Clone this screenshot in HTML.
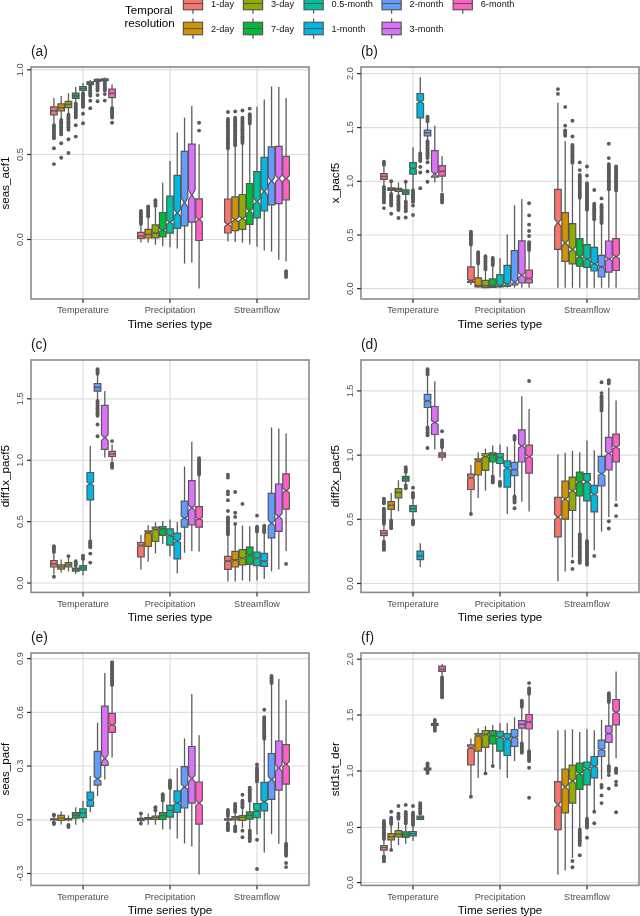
<!DOCTYPE html><html><head><meta charset="utf-8"><style>html,body{margin:0;padding:0;background:#fff;width:640px;height:916px;overflow:hidden}svg{display:block;will-change:transform}</style></head><body><svg width="640" height="916" viewBox="0 0 640 916">
<style>.w{stroke:#5c5c5c;stroke-width:1.3}.o{fill:#5a5a5a}.bx{stroke:#575757;stroke-width:1.2;stroke-linejoin:miter}.md{stroke:#575757;stroke-width:1.1}.g{stroke:#dedede;stroke-width:1.2}.fr{fill:none;stroke:#8a8a8a;stroke-width:1.6}.tk{stroke:#2a2a2a;stroke-width:1.2}text{font-family:"Liberation Sans",sans-serif}.tl{fill:#4d4d4d;font-size:9.2px}.ti{fill:#000;font-size:11.6px}.pl{fill:#1a1a1a;font-size:13.8px}</style>
<rect width="640" height="916" fill="#fff"/>
<line x1="31" y1="239.5" x2="309" y2="239.5" class="g"/><line x1="31" y1="154.5" x2="309" y2="154.5" class="g"/><line x1="31" y1="69.8" x2="309" y2="69.8" class="g"/><line x1="83" y1="67" x2="83" y2="299" class="g"/><line x1="170" y1="67" x2="170" y2="299" class="g"/><line x1="257" y1="67" x2="257" y2="299" class="g"/>
<line x1="53.92" y1="98" x2="53.92" y2="106.9" class="w"/><line x1="53.92" y1="114.8" x2="53.92" y2="125.2" class="w"/><rect x="52.26" y="125.2" width="3.31" height="13.1" class="o"/><circle cx="53.92" cy="125.2" r="1.95" class="o"/><circle cx="53.92" cy="127.82" r="1.95" class="o"/><circle cx="53.92" cy="130.44" r="1.95" class="o"/><circle cx="53.92" cy="133.06" r="1.95" class="o"/><circle cx="53.92" cy="135.68" r="1.95" class="o"/><circle cx="53.92" cy="138.3" r="1.95" class="o"/><circle cx="53.92" cy="148.2" r="1.95" class="o"/><circle cx="53.92" cy="164.1" r="1.95" class="o"/><path d="M50.62,106.9H57.22V110.29L54.32,110.8L57.22,111.31V114.8H50.62V111.31L53.52,110.8L50.62,110.29Z" fill="#F8766D" class="bx"/><line x1="53.52" y1="110.8" x2="54.32" y2="110.8" class="md"/>
<line x1="61.19" y1="96" x2="61.19" y2="103.9" class="w"/><line x1="61.19" y1="110.8" x2="61.19" y2="120" class="w"/><rect x="59.53" y="120" width="3.31" height="14.4" class="o"/><circle cx="61.19" cy="120" r="1.95" class="o"/><circle cx="61.19" cy="122.4" r="1.95" class="o"/><circle cx="61.19" cy="124.8" r="1.95" class="o"/><circle cx="61.19" cy="127.2" r="1.95" class="o"/><circle cx="61.19" cy="129.6" r="1.95" class="o"/><circle cx="61.19" cy="132" r="1.95" class="o"/><circle cx="61.19" cy="134.4" r="1.95" class="o"/><circle cx="61.19" cy="143.3" r="1.95" class="o"/><circle cx="61.19" cy="157.7" r="1.95" class="o"/><path d="M57.89,103.9H64.49V107.15L61.59,107.6L64.49,108.05V110.8H57.89V108.05L60.79,107.6L57.89,107.15Z" fill="#D39200" class="bx"/><line x1="60.79" y1="107.6" x2="61.59" y2="107.6" class="md"/>
<line x1="68.46" y1="93.2" x2="68.46" y2="101.4" class="w"/><line x1="68.46" y1="107.6" x2="68.46" y2="114.8" class="w"/><rect x="66.8" y="114.8" width="3.31" height="15" class="o"/><circle cx="68.46" cy="114.8" r="1.95" class="o"/><circle cx="68.46" cy="117.3" r="1.95" class="o"/><circle cx="68.46" cy="119.8" r="1.95" class="o"/><circle cx="68.46" cy="122.3" r="1.95" class="o"/><circle cx="68.46" cy="124.8" r="1.95" class="o"/><circle cx="68.46" cy="127.3" r="1.95" class="o"/><circle cx="68.46" cy="129.8" r="1.95" class="o"/><circle cx="68.46" cy="139.3" r="1.95" class="o"/><circle cx="68.46" cy="153" r="1.95" class="o"/><path d="M65.16,101.4H71.76V103.9L68.86,104.3L71.76,104.7V107.6H65.16V104.7L68.06,104.3L65.16,103.9Z" fill="#93AA00" class="bx"/><line x1="68.06" y1="104.3" x2="68.86" y2="104.3" class="md"/>
<line x1="75.73" y1="87" x2="75.73" y2="93.2" class="w"/><line x1="75.73" y1="98.4" x2="75.73" y2="103.6" class="w"/><rect x="74.07" y="103.6" width="3.31" height="13.8" class="o"/><circle cx="75.73" cy="103.6" r="1.95" class="o"/><circle cx="75.73" cy="105.9" r="1.95" class="o"/><circle cx="75.73" cy="108.2" r="1.95" class="o"/><circle cx="75.73" cy="110.5" r="1.95" class="o"/><circle cx="75.73" cy="112.8" r="1.95" class="o"/><circle cx="75.73" cy="115.1" r="1.95" class="o"/><circle cx="75.73" cy="117.4" r="1.95" class="o"/><circle cx="75.73" cy="125.2" r="1.95" class="o"/><circle cx="75.73" cy="136.6" r="1.95" class="o"/><path d="M72.43,93.2H79.03V95.46L76.13,95.8L79.03,96.14V98.4H72.43V96.14L75.33,95.8L72.43,95.46Z" fill="#00BA38" class="bx"/><line x1="75.33" y1="95.8" x2="76.13" y2="95.8" class="md"/>
<line x1="83" y1="83" x2="83" y2="86.6" class="w"/><line x1="83" y1="90.5" x2="83" y2="93.2" class="w"/><rect x="81.34" y="93.2" width="3.31" height="13.7" class="o"/><circle cx="83" cy="93.2" r="1.95" class="o"/><circle cx="83" cy="95.48" r="1.95" class="o"/><circle cx="83" cy="97.77" r="1.95" class="o"/><circle cx="83" cy="100.05" r="1.95" class="o"/><circle cx="83" cy="102.33" r="1.95" class="o"/><circle cx="83" cy="104.62" r="1.95" class="o"/><circle cx="83" cy="106.9" r="1.95" class="o"/><circle cx="83" cy="113.7" r="1.95" class="o"/><circle cx="83" cy="123.3" r="1.95" class="o"/><path d="M79.7,86.6H86.3V88.35L83.4,88.6L86.3,88.85V90.5H79.7V88.85L82.6,88.6L79.7,88.35Z" fill="#00C19F" class="bx"/><line x1="82.6" y1="88.6" x2="83.4" y2="88.6" class="md"/>
<line x1="90.27" y1="80" x2="90.27" y2="81.8" class="w"/><line x1="90.27" y1="84.3" x2="90.27" y2="85.3" class="w"/><rect x="88.61" y="85.3" width="3.31" height="10.5" class="o"/><circle cx="90.27" cy="85.3" r="1.95" class="o"/><circle cx="90.27" cy="87.92" r="1.95" class="o"/><circle cx="90.27" cy="90.55" r="1.95" class="o"/><circle cx="90.27" cy="93.17" r="1.95" class="o"/><circle cx="90.27" cy="95.8" r="1.95" class="o"/><circle cx="90.27" cy="100.8" r="1.95" class="o"/><circle cx="90.27" cy="108.2" r="1.95" class="o"/><path d="M86.97,81.8H93.57V82.84L90.67,83L93.57,83.16V84.3H86.97V83.16L89.87,83L86.97,82.84Z" fill="#00B9E3" class="bx"/><line x1="89.87" y1="83" x2="90.67" y2="83" class="md"/>
<line x1="97.54" y1="78.1" x2="97.54" y2="79.4" class="w"/><line x1="97.54" y1="81.4" x2="97.54" y2="82" class="w"/><rect x="95.88" y="82" width="3.31" height="8.5" class="o"/><circle cx="97.54" cy="82" r="1.95" class="o"/><circle cx="97.54" cy="84.12" r="1.95" class="o"/><circle cx="97.54" cy="86.25" r="1.95" class="o"/><circle cx="97.54" cy="88.38" r="1.95" class="o"/><circle cx="97.54" cy="90.5" r="1.95" class="o"/><circle cx="97.54" cy="95.1" r="1.95" class="o"/><circle cx="97.54" cy="101.3" r="1.95" class="o"/><path d="M94.24,79.4H100.84V80.17L97.94,80.3L100.84,80.43V81.4H94.24V80.43L97.14,80.3L94.24,80.17Z" fill="#619CFF" class="bx"/><line x1="97.14" y1="80.3" x2="97.94" y2="80.3" class="md"/>
<line x1="104.81" y1="77.4" x2="104.81" y2="78.8" class="w"/><line x1="104.81" y1="80.7" x2="104.81" y2="81.4" class="w"/><rect x="103.15" y="81.4" width="3.31" height="9.1" class="o"/><circle cx="104.81" cy="81.4" r="1.95" class="o"/><circle cx="104.81" cy="83.68" r="1.95" class="o"/><circle cx="104.81" cy="85.95" r="1.95" class="o"/><circle cx="104.81" cy="88.22" r="1.95" class="o"/><circle cx="104.81" cy="90.5" r="1.95" class="o"/><circle cx="104.81" cy="94.1" r="1.95" class="o"/><circle cx="104.81" cy="100.6" r="1.95" class="o"/><path d="M101.51,78.8H108.11V79.58L105.21,79.7L108.11,79.82V80.7H101.51V79.82L104.41,79.7L101.51,79.58Z" fill="#DB72FB" class="bx"/><line x1="104.41" y1="79.7" x2="105.21" y2="79.7" class="md"/>
<line x1="112.08" y1="84.2" x2="112.08" y2="89.1" class="w"/><line x1="112.08" y1="97.7" x2="112.08" y2="108" class="w"/><rect x="110.42" y="108" width="3.31" height="9.6" class="o"/><circle cx="112.08" cy="108" r="1.95" class="o"/><circle cx="112.08" cy="110.4" r="1.95" class="o"/><circle cx="112.08" cy="112.8" r="1.95" class="o"/><circle cx="112.08" cy="115.2" r="1.95" class="o"/><circle cx="112.08" cy="117.6" r="1.95" class="o"/><circle cx="112.08" cy="122.75" r="1.95" class="o"/><path d="M108.78,89.1H115.38V92.74L112.48,93.3L115.38,93.86V97.7H108.78V93.86L111.68,93.3L108.78,92.74Z" fill="#FF61C3" class="bx"/><line x1="111.68" y1="93.3" x2="112.48" y2="93.3" class="md"/>
<line x1="140.92" y1="225.5" x2="140.92" y2="232.4" class="w"/><line x1="140.92" y1="238.5" x2="140.92" y2="242.4" class="w"/><rect x="139.26" y="211" width="3.31" height="13" class="o"/><circle cx="140.92" cy="211" r="1.95" class="o"/><circle cx="140.92" cy="213.6" r="1.95" class="o"/><circle cx="140.92" cy="216.2" r="1.95" class="o"/><circle cx="140.92" cy="218.8" r="1.95" class="o"/><circle cx="140.92" cy="221.4" r="1.95" class="o"/><circle cx="140.92" cy="224" r="1.95" class="o"/><path d="M137.62,232.4H144.22V235.8L141.32,236.2L144.22,236.6V238.5H137.62V236.6L140.52,236.2L137.62,235.8Z" fill="#F8766D" class="bx"/><line x1="140.52" y1="236.2" x2="141.32" y2="236.2" class="md"/>
<line x1="148.19" y1="218" x2="148.19" y2="229.4" class="w"/><line x1="148.19" y1="238" x2="148.19" y2="242.4" class="w"/><rect x="146.53" y="206.4" width="3.31" height="10" class="o"/><circle cx="148.19" cy="206.4" r="1.95" class="o"/><circle cx="148.19" cy="208.9" r="1.95" class="o"/><circle cx="148.19" cy="211.4" r="1.95" class="o"/><circle cx="148.19" cy="213.9" r="1.95" class="o"/><circle cx="148.19" cy="216.4" r="1.95" class="o"/><path d="M144.89,229.4H151.49V233.84L148.59,234.4L151.49,234.96V238H144.89V234.96L147.79,234.4L144.89,233.84Z" fill="#D39200" class="bx"/><line x1="147.79" y1="234.4" x2="148.59" y2="234.4" class="md"/>
<line x1="155.46" y1="206.4" x2="155.46" y2="224.8" class="w"/><line x1="155.46" y1="237.8" x2="155.46" y2="244.7" class="w"/><rect x="153.8" y="200.3" width="3.31" height="5.4" class="o"/><circle cx="155.46" cy="200.3" r="1.95" class="o"/><circle cx="155.46" cy="203" r="1.95" class="o"/><circle cx="155.46" cy="205.7" r="1.95" class="o"/><path d="M152.16,224.8H158.76V232.35L155.86,233.2L158.76,234.04V237.8H152.16V234.04L155.06,233.2L152.16,232.35Z" fill="#93AA00" class="bx"/><line x1="155.06" y1="233.2" x2="155.86" y2="233.2" class="md"/>
<line x1="162.73" y1="182.7" x2="162.73" y2="212.5" class="w"/><line x1="162.73" y1="237" x2="162.73" y2="246.2" class="w"/><path d="M159.43,212.5H166.03V228.51L163.13,230.1L166.03,231.69V237H159.43V231.69L162.33,230.1L159.43,228.51Z" fill="#00BA38" class="bx"/><line x1="162.33" y1="230.1" x2="163.13" y2="230.1" class="md"/>
<line x1="170" y1="161" x2="170" y2="196" class="w"/><line x1="170" y1="233.2" x2="170" y2="247.3" class="w"/><path d="M166.7,196H173.3V219.78L170.4,222.2L173.3,224.62V233.2H166.7V224.62L169.6,222.2L166.7,219.78Z" fill="#00C19F" class="bx"/><line x1="169.6" y1="222.2" x2="170.4" y2="222.2" class="md"/>
<line x1="177.27" y1="132.5" x2="177.27" y2="175.4" class="w"/><line x1="177.27" y1="228.3" x2="177.27" y2="248.5" class="w"/><path d="M173.97,175.4H180.57V209.36L177.67,212.8L180.57,216.24V228.3H173.97V216.24L176.87,212.8L173.97,209.36Z" fill="#00B9E3" class="bx"/><line x1="176.87" y1="212.8" x2="177.67" y2="212.8" class="md"/>
<line x1="184.54" y1="117.6" x2="184.54" y2="151.4" class="w"/><line x1="184.54" y1="226" x2="184.54" y2="263.6" class="w"/><path d="M181.24,151.4H187.84V197.75L184.94,202.6L187.84,207.45V226H181.24V207.45L184.14,202.6L181.24,197.75Z" fill="#619CFF" class="bx"/><line x1="184.14" y1="202.6" x2="184.94" y2="202.6" class="md"/>
<line x1="191.81" y1="105.9" x2="191.81" y2="144.2" class="w"/><line x1="191.81" y1="222.2" x2="191.81" y2="262.6" class="w"/><path d="M188.51,144.2H195.11V189.93L192.21,195L195.11,200.07V222.2H188.51V200.07L191.41,195L188.51,189.93Z" fill="#DB72FB" class="bx"/><line x1="191.41" y1="195" x2="192.21" y2="195" class="md"/>
<line x1="199.08" y1="144.2" x2="199.08" y2="198.8" class="w"/><line x1="199.08" y1="240.5" x2="199.08" y2="288.4" class="w"/><circle cx="199.08" cy="122.7" r="1.95" class="o"/><circle cx="199.08" cy="130.6" r="1.95" class="o"/><path d="M195.78,198.8H202.38V216.69L199.48,219.4L202.38,222.11V240.5H195.78V222.11L198.68,219.4L195.78,216.69Z" fill="#FF61C3" class="bx"/><line x1="198.68" y1="219.4" x2="199.48" y2="219.4" class="md"/>
<line x1="227.92" y1="148.2" x2="227.92" y2="199" class="w"/><line x1="227.92" y1="233" x2="227.92" y2="241.4" class="w"/><rect x="226.26" y="118.9" width="3.31" height="29.3" class="o"/><circle cx="227.92" cy="118.9" r="1.95" class="o"/><circle cx="227.92" cy="121.34" r="1.95" class="o"/><circle cx="227.92" cy="123.78" r="1.95" class="o"/><circle cx="227.92" cy="126.22" r="1.95" class="o"/><circle cx="227.92" cy="128.67" r="1.95" class="o"/><circle cx="227.92" cy="131.11" r="1.95" class="o"/><circle cx="227.92" cy="133.55" r="1.95" class="o"/><circle cx="227.92" cy="135.99" r="1.95" class="o"/><circle cx="227.92" cy="138.43" r="1.95" class="o"/><circle cx="227.92" cy="140.88" r="1.95" class="o"/><circle cx="227.92" cy="143.32" r="1.95" class="o"/><circle cx="227.92" cy="145.76" r="1.95" class="o"/><circle cx="227.92" cy="148.2" r="1.95" class="o"/><circle cx="227.92" cy="112" r="1.95" class="o"/><path d="M224.62,199H231.22V222.09L228.32,224.3L231.22,226.51V233H224.62V226.51L227.52,224.3L224.62,222.09Z" fill="#F8766D" class="bx"/><line x1="227.52" y1="224.3" x2="228.32" y2="224.3" class="md"/>
<line x1="235.19" y1="145.3" x2="235.19" y2="196.8" class="w"/><line x1="235.19" y1="230.7" x2="235.19" y2="242.1" class="w"/><rect x="233.53" y="117.8" width="3.31" height="27.5" class="o"/><circle cx="235.19" cy="117.8" r="1.95" class="o"/><circle cx="235.19" cy="120.3" r="1.95" class="o"/><circle cx="235.19" cy="122.8" r="1.95" class="o"/><circle cx="235.19" cy="125.3" r="1.95" class="o"/><circle cx="235.19" cy="127.8" r="1.95" class="o"/><circle cx="235.19" cy="130.3" r="1.95" class="o"/><circle cx="235.19" cy="132.8" r="1.95" class="o"/><circle cx="235.19" cy="135.3" r="1.95" class="o"/><circle cx="235.19" cy="137.8" r="1.95" class="o"/><circle cx="235.19" cy="140.3" r="1.95" class="o"/><circle cx="235.19" cy="142.8" r="1.95" class="o"/><circle cx="235.19" cy="145.3" r="1.95" class="o"/><circle cx="235.19" cy="111.4" r="1.95" class="o"/><path d="M231.89,196.8H238.49V217.5L235.59,219.7L238.49,221.9V230.7H231.89V221.9L234.79,219.7L231.89,217.5Z" fill="#D39200" class="bx"/><line x1="234.79" y1="219.7" x2="235.59" y2="219.7" class="md"/>
<line x1="242.46" y1="143" x2="242.46" y2="194.5" class="w"/><line x1="242.46" y1="229.3" x2="242.46" y2="242.6" class="w"/><rect x="240.8" y="117.8" width="3.31" height="25.2" class="o"/><circle cx="242.46" cy="117.8" r="1.95" class="o"/><circle cx="242.46" cy="120.09" r="1.95" class="o"/><circle cx="242.46" cy="122.38" r="1.95" class="o"/><circle cx="242.46" cy="124.67" r="1.95" class="o"/><circle cx="242.46" cy="126.96" r="1.95" class="o"/><circle cx="242.46" cy="129.25" r="1.95" class="o"/><circle cx="242.46" cy="131.55" r="1.95" class="o"/><circle cx="242.46" cy="133.84" r="1.95" class="o"/><circle cx="242.46" cy="136.13" r="1.95" class="o"/><circle cx="242.46" cy="138.42" r="1.95" class="o"/><circle cx="242.46" cy="140.71" r="1.95" class="o"/><circle cx="242.46" cy="143" r="1.95" class="o"/><circle cx="242.46" cy="110.5" r="1.95" class="o"/><path d="M239.16,194.5H245.76V216.24L242.86,218.5L245.76,220.76V229.3H239.16V220.76L242.06,218.5L239.16,216.24Z" fill="#93AA00" class="bx"/><line x1="242.06" y1="218.5" x2="242.86" y2="218.5" class="md"/>
<line x1="249.73" y1="123.5" x2="249.73" y2="183.5" class="w"/><line x1="249.73" y1="224.3" x2="249.73" y2="244.4" class="w"/><rect x="248.07" y="114.3" width="3.31" height="9.2" class="o"/><circle cx="249.73" cy="114.3" r="1.95" class="o"/><circle cx="249.73" cy="116.6" r="1.95" class="o"/><circle cx="249.73" cy="118.9" r="1.95" class="o"/><circle cx="249.73" cy="121.2" r="1.95" class="o"/><circle cx="249.73" cy="123.5" r="1.95" class="o"/><circle cx="249.73" cy="108.6" r="1.95" class="o"/><path d="M246.43,183.5H253.03V208.35L250.13,211L253.03,213.65V224.3H246.43V213.65L249.33,211L246.43,208.35Z" fill="#00BA38" class="bx"/><line x1="249.33" y1="211" x2="250.13" y2="211" class="md"/>
<line x1="257" y1="106.8" x2="257" y2="171.6" class="w"/><line x1="257" y1="217.9" x2="257" y2="246.7" class="w"/><path d="M253.7,171.6H260.3V198.39L257.4,201.4L260.3,204.41V217.9H253.7V204.41L256.6,201.4L253.7,198.39Z" fill="#00C19F" class="bx"/><line x1="256.6" y1="201.4" x2="257.4" y2="201.4" class="md"/>
<line x1="264.27" y1="99.5" x2="264.27" y2="157.4" class="w"/><line x1="264.27" y1="211" x2="264.27" y2="250.6" class="w"/><path d="M260.97,157.4H267.57V188.02L264.67,191.5L267.57,194.98V211H260.97V194.98L263.87,191.5L260.97,188.02Z" fill="#00B9E3" class="bx"/><line x1="263.87" y1="191.5" x2="264.67" y2="191.5" class="md"/>
<line x1="271.54" y1="86.4" x2="271.54" y2="146.9" class="w"/><line x1="271.54" y1="204.8" x2="271.54" y2="251.7" class="w"/><path d="M268.24,146.9H274.84V177.04L271.94,180.8L274.84,184.56V204.8H268.24V184.56L271.14,180.8L268.24,177.04Z" fill="#619CFF" class="bx"/><line x1="271.14" y1="180.8" x2="271.94" y2="180.8" class="md"/>
<line x1="278.81" y1="86.9" x2="278.81" y2="146.4" class="w"/><line x1="278.81" y1="203.7" x2="278.81" y2="259.8" class="w"/><path d="M275.51,146.4H282.11V174.78L279.21,178.5L282.11,182.22V203.7H275.51V182.22L278.41,178.5L275.51,174.78Z" fill="#DB72FB" class="bx"/><line x1="278.41" y1="178.5" x2="279.21" y2="178.5" class="md"/>
<line x1="286.08" y1="97.9" x2="286.08" y2="156.3" class="w"/><line x1="286.08" y1="199.8" x2="286.08" y2="261.4" class="w"/><rect x="284.42" y="271.2" width="3.31" height="5.8" class="o"/><circle cx="286.08" cy="271.2" r="1.95" class="o"/><circle cx="286.08" cy="274.1" r="1.95" class="o"/><circle cx="286.08" cy="277" r="1.95" class="o"/><path d="M282.78,156.3H289.38V175.67L286.48,178.5L289.38,181.33V199.8H282.78V181.33L285.68,178.5L282.78,175.67Z" fill="#FF61C3" class="bx"/><line x1="285.68" y1="178.5" x2="286.48" y2="178.5" class="md"/>
<rect x="31" y="67" width="278" height="232" class="fr"/>
<line x1="27" y1="239.5" x2="31" y2="239.5" class="tk"/>
<text class="tl" transform="translate(23,239.5) rotate(-90)" text-anchor="middle">0.0</text>
<line x1="27" y1="154.5" x2="31" y2="154.5" class="tk"/>
<text class="tl" transform="translate(23,154.5) rotate(-90)" text-anchor="middle">0.5</text>
<line x1="27" y1="69.8" x2="31" y2="69.8" class="tk"/>
<text class="tl" transform="translate(23,69.8) rotate(-90)" text-anchor="middle">1.0</text>
<line x1="83" y1="299" x2="83" y2="303" class="tk"/>
<text class="tl" x="83" y="313.4" text-anchor="middle">Temperature</text>
<line x1="170" y1="299" x2="170" y2="303" class="tk"/>
<text class="tl" x="170" y="313.4" text-anchor="middle">Precipitation</text>
<line x1="257" y1="299" x2="257" y2="303" class="tk"/>
<text class="tl" x="257" y="313.4" text-anchor="middle">Streamflow</text>
<text class="ti" x="170" y="328" text-anchor="middle">Time series type</text>
<text class="ti" transform="translate(9,183) rotate(-90)" text-anchor="middle">seas_acf1</text>
<text class="pl" x="31" y="55.7">(a)</text>
<line x1="361" y1="288.7" x2="639" y2="288.7" class="g"/><line x1="361" y1="235" x2="639" y2="235" class="g"/><line x1="361" y1="181.3" x2="639" y2="181.3" class="g"/><line x1="361" y1="127.6" x2="639" y2="127.6" class="g"/><line x1="361" y1="73.6" x2="639" y2="73.6" class="g"/><line x1="413" y1="67" x2="413" y2="299" class="g"/><line x1="500" y1="67" x2="500" y2="299" class="g"/><line x1="587" y1="67" x2="587" y2="299" class="g"/>
<line x1="383.92" y1="166.4" x2="383.92" y2="173.6" class="w"/><line x1="383.92" y1="179.4" x2="383.92" y2="187" class="w"/><rect x="382.26" y="161.8" width="3.31" height="3.1" class="o"/><circle cx="383.92" cy="161.8" r="1.95" class="o"/><circle cx="383.92" cy="164.9" r="1.95" class="o"/><rect x="382.26" y="187" width="3.31" height="15.5" class="o"/><circle cx="383.92" cy="187" r="1.95" class="o"/><circle cx="383.92" cy="189.58" r="1.95" class="o"/><circle cx="383.92" cy="192.17" r="1.95" class="o"/><circle cx="383.92" cy="194.75" r="1.95" class="o"/><circle cx="383.92" cy="197.33" r="1.95" class="o"/><circle cx="383.92" cy="199.92" r="1.95" class="o"/><circle cx="383.92" cy="202.5" r="1.95" class="o"/><circle cx="383.92" cy="208.1" r="1.95" class="o"/><path d="M380.62,173.6H387.22V176.02L384.32,176.4L387.22,176.78V179.4H380.62V176.78L383.52,176.4L380.62,176.02Z" fill="#F8766D" class="bx"/><line x1="383.52" y1="176.4" x2="384.32" y2="176.4" class="md"/>
<line x1="391.19" y1="181.7" x2="391.19" y2="187.8" class="w"/><line x1="391.19" y1="190.4" x2="391.19" y2="194" class="w"/><rect x="389.53" y="194" width="3.31" height="11.6" class="o"/><circle cx="391.19" cy="194" r="1.95" class="o"/><circle cx="391.19" cy="196.32" r="1.95" class="o"/><circle cx="391.19" cy="198.64" r="1.95" class="o"/><circle cx="391.19" cy="200.96" r="1.95" class="o"/><circle cx="391.19" cy="203.28" r="1.95" class="o"/><circle cx="391.19" cy="205.6" r="1.95" class="o"/><circle cx="391.19" cy="181.3" r="1.95" class="o"/><circle cx="391.19" cy="213.75" r="1.95" class="o"/><path d="M387.89,187.8H394.49V188.93L391.59,189.1L394.49,189.27V190.4H387.89V189.27L390.79,189.1L387.89,188.93Z" fill="#D39200" class="bx"/><line x1="390.79" y1="189.1" x2="391.59" y2="189.1" class="md"/>
<line x1="398.46" y1="182.5" x2="398.46" y2="188.3" class="w"/><line x1="398.46" y1="191.4" x2="398.46" y2="196.3" class="w"/><rect x="396.8" y="196.3" width="3.31" height="13.7" class="o"/><circle cx="398.46" cy="196.3" r="1.95" class="o"/><circle cx="398.46" cy="198.58" r="1.95" class="o"/><circle cx="398.46" cy="200.87" r="1.95" class="o"/><circle cx="398.46" cy="203.15" r="1.95" class="o"/><circle cx="398.46" cy="205.43" r="1.95" class="o"/><circle cx="398.46" cy="207.72" r="1.95" class="o"/><circle cx="398.46" cy="210" r="1.95" class="o"/><circle cx="398.46" cy="218" r="1.95" class="o"/><path d="M395.16,188.3H401.76V189.5L398.86,189.7L401.76,189.9V191.4H395.16V189.9L398.06,189.7L395.16,189.5Z" fill="#93AA00" class="bx"/><line x1="398.06" y1="189.7" x2="398.86" y2="189.7" class="md"/>
<line x1="405.73" y1="181.7" x2="405.73" y2="189.8" class="w"/><line x1="405.73" y1="194.4" x2="405.73" y2="201.6" class="w"/><rect x="404.07" y="201.6" width="3.31" height="9.65" class="o"/><circle cx="405.73" cy="201.6" r="1.95" class="o"/><circle cx="405.73" cy="204.01" r="1.95" class="o"/><circle cx="405.73" cy="206.43" r="1.95" class="o"/><circle cx="405.73" cy="208.84" r="1.95" class="o"/><circle cx="405.73" cy="211.25" r="1.95" class="o"/><circle cx="405.73" cy="181.7" r="1.95" class="o"/><circle cx="405.73" cy="217.5" r="1.95" class="o"/><path d="M402.43,189.8H409.03V191.8L406.13,192.1L409.03,192.4V194.4H402.43V192.4L405.33,192.1L402.43,191.8Z" fill="#00BA38" class="bx"/><line x1="405.33" y1="192.1" x2="406.13" y2="192.1" class="md"/>
<line x1="413" y1="147.3" x2="413" y2="162.6" class="w"/><line x1="413" y1="174.1" x2="413" y2="190.1" class="w"/><rect x="411.34" y="190.1" width="3.31" height="11.8" class="o"/><circle cx="413" cy="190.1" r="1.95" class="o"/><circle cx="413" cy="192.46" r="1.95" class="o"/><circle cx="413" cy="194.82" r="1.95" class="o"/><circle cx="413" cy="197.18" r="1.95" class="o"/><circle cx="413" cy="199.54" r="1.95" class="o"/><circle cx="413" cy="201.9" r="1.95" class="o"/><circle cx="413" cy="205.6" r="1.95" class="o"/><circle cx="413" cy="215" r="1.95" class="o"/><path d="M409.7,162.6H416.3V167.65L413.4,168.4L416.3,169.15V174.1H409.7V169.15L412.6,168.4L409.7,167.65Z" fill="#00C19F" class="bx"/><line x1="412.6" y1="168.4" x2="413.4" y2="168.4" class="md"/>
<line x1="420.27" y1="77.3" x2="420.27" y2="93.7" class="w"/><line x1="420.27" y1="117.9" x2="420.27" y2="153.4" class="w"/><rect x="418.61" y="153.4" width="3.31" height="7.7" class="o"/><circle cx="420.27" cy="153.4" r="1.95" class="o"/><circle cx="420.27" cy="155.97" r="1.95" class="o"/><circle cx="420.27" cy="158.53" r="1.95" class="o"/><circle cx="420.27" cy="161.1" r="1.95" class="o"/><circle cx="420.27" cy="166.9" r="1.95" class="o"/><circle cx="420.27" cy="172.5" r="1.95" class="o"/><circle cx="420.27" cy="188.3" r="1.95" class="o"/><path d="M416.97,93.7H423.57V100.13L420.67,101.7L423.57,103.27V117.9H416.97V103.27L419.87,101.7L416.97,100.13Z" fill="#00B9E3" class="bx"/><line x1="419.87" y1="101.7" x2="420.67" y2="101.7" class="md"/>
<line x1="427.54" y1="122" x2="427.54" y2="130.2" class="w"/><line x1="427.54" y1="135.8" x2="427.54" y2="141.2" class="w"/><rect x="425.88" y="116.7" width="3.31" height="4.6" class="o"/><circle cx="427.54" cy="116.7" r="1.95" class="o"/><circle cx="427.54" cy="119" r="1.95" class="o"/><circle cx="427.54" cy="121.3" r="1.95" class="o"/><rect x="425.88" y="141.2" width="3.31" height="16.8" class="o"/><circle cx="427.54" cy="141.2" r="1.95" class="o"/><circle cx="427.54" cy="143.6" r="1.95" class="o"/><circle cx="427.54" cy="146" r="1.95" class="o"/><circle cx="427.54" cy="148.4" r="1.95" class="o"/><circle cx="427.54" cy="150.8" r="1.95" class="o"/><circle cx="427.54" cy="153.2" r="1.95" class="o"/><circle cx="427.54" cy="155.6" r="1.95" class="o"/><circle cx="427.54" cy="158" r="1.95" class="o"/><circle cx="427.54" cy="162.3" r="1.95" class="o"/><circle cx="427.54" cy="171.5" r="1.95" class="o"/><circle cx="427.54" cy="181.7" r="1.95" class="o"/><path d="M424.24,130.2H430.84V132.44L427.94,132.8L430.84,133.16V135.8H424.24V133.16L427.14,132.8L424.24,132.44Z" fill="#619CFF" class="bx"/><line x1="427.14" y1="132.8" x2="427.94" y2="132.8" class="md"/>
<line x1="434.81" y1="125.6" x2="434.81" y2="150.7" class="w"/><line x1="434.81" y1="177.1" x2="434.81" y2="182.5" class="w"/><path d="M431.51,150.7H438.11V171.6L435.21,174.1L438.11,176.6V177.1H431.51V176.6L434.41,174.1L431.51,171.6Z" fill="#DB72FB" class="bx"/><line x1="434.41" y1="174.1" x2="435.21" y2="174.1" class="md"/>
<line x1="442.08" y1="156.2" x2="442.08" y2="165.7" class="w"/><line x1="442.08" y1="176.1" x2="442.08" y2="191.7" class="w"/><rect x="440.42" y="194.4" width="3.31" height="8.1" class="o"/><circle cx="442.08" cy="194.4" r="1.95" class="o"/><circle cx="442.08" cy="197.1" r="1.95" class="o"/><circle cx="442.08" cy="199.8" r="1.95" class="o"/><circle cx="442.08" cy="202.5" r="1.95" class="o"/><path d="M438.78,165.7H445.38V170.62L442.48,171.3L445.38,171.98V176.1H438.78V171.98L441.68,171.3L438.78,170.62Z" fill="#FF61C3" class="bx"/><line x1="441.68" y1="171.3" x2="442.48" y2="171.3" class="md"/>
<line x1="470.92" y1="244.5" x2="470.92" y2="266.9" class="w"/><line x1="470.92" y1="282.3" x2="470.92" y2="284.9" class="w"/><rect x="469.26" y="231.7" width="3.31" height="12.8" class="o"/><circle cx="470.92" cy="231.7" r="1.95" class="o"/><circle cx="470.92" cy="234.26" r="1.95" class="o"/><circle cx="470.92" cy="236.82" r="1.95" class="o"/><circle cx="470.92" cy="239.38" r="1.95" class="o"/><circle cx="470.92" cy="241.94" r="1.95" class="o"/><circle cx="470.92" cy="244.5" r="1.95" class="o"/><path d="M467.62,266.9H474.22V279.4L471.32,280.4L474.22,281.4V282.3H467.62V281.4L470.52,280.4L467.62,279.4Z" fill="#F8766D" class="bx"/><line x1="470.52" y1="280.4" x2="471.32" y2="280.4" class="md"/>
<line x1="478.19" y1="263.6" x2="478.19" y2="277.8" class="w"/><line x1="478.19" y1="287" x2="478.19" y2="287.7" class="w"/><rect x="476.53" y="252.3" width="3.31" height="11.3" class="o"/><circle cx="478.19" cy="252.3" r="1.95" class="o"/><circle cx="478.19" cy="254.56" r="1.95" class="o"/><circle cx="478.19" cy="256.82" r="1.95" class="o"/><circle cx="478.19" cy="259.08" r="1.95" class="o"/><circle cx="478.19" cy="261.34" r="1.95" class="o"/><circle cx="478.19" cy="263.6" r="1.95" class="o"/><path d="M474.89,277.8H481.49V285L478.59,285.6L481.49,286.2V287H474.89V286.2L477.79,285.6L474.89,285Z" fill="#D39200" class="bx"/><line x1="477.79" y1="285.6" x2="478.59" y2="285.6" class="md"/>
<line x1="485.46" y1="269.3" x2="485.46" y2="280.4" class="w"/><line x1="485.46" y1="287.7" x2="485.46" y2="288" class="w"/><rect x="483.8" y="256.2" width="3.31" height="13.1" class="o"/><circle cx="485.46" cy="256.2" r="1.95" class="o"/><circle cx="485.46" cy="258.82" r="1.95" class="o"/><circle cx="485.46" cy="261.44" r="1.95" class="o"/><circle cx="485.46" cy="264.06" r="1.95" class="o"/><circle cx="485.46" cy="266.68" r="1.95" class="o"/><circle cx="485.46" cy="269.3" r="1.95" class="o"/><path d="M482.16,280.4H488.76V285.13L485.86,285.6L488.76,286.07V287.7H482.16V286.07L485.06,285.6L482.16,285.13Z" fill="#93AA00" class="bx"/><line x1="485.06" y1="285.6" x2="485.86" y2="285.6" class="md"/>
<line x1="492.73" y1="265" x2="492.73" y2="278.9" class="w"/><line x1="492.73" y1="287.4" x2="492.73" y2="288" class="w"/><rect x="491.07" y="258" width="3.31" height="7" class="o"/><circle cx="492.73" cy="258" r="1.95" class="o"/><circle cx="492.73" cy="260.33" r="1.95" class="o"/><circle cx="492.73" cy="262.67" r="1.95" class="o"/><circle cx="492.73" cy="265" r="1.95" class="o"/><path d="M489.43,278.9H496.03V285.05L493.13,285.6L496.03,286.15V287.4H489.43V286.15L492.33,285.6L489.43,285.05Z" fill="#00BA38" class="bx"/><line x1="492.33" y1="285.6" x2="493.13" y2="285.6" class="md"/>
<line x1="500" y1="258" x2="500" y2="274.7" class="w"/><line x1="500" y1="287" x2="500" y2="288" class="w"/><path d="M496.7,274.7H503.3V284.8L500.4,285.6L503.3,286.4V287H496.7V286.4L499.6,285.6L496.7,284.8Z" fill="#00C19F" class="bx"/><line x1="499.6" y1="285.6" x2="500.4" y2="285.6" class="md"/>
<line x1="507.27" y1="234.5" x2="507.27" y2="265.3" class="w"/><line x1="507.27" y1="286.3" x2="507.27" y2="287.7" class="w"/><path d="M503.97,265.3H510.57V282.83L507.67,284.2L510.57,285.56V286.3H503.97V285.56L506.87,284.2L503.97,282.83Z" fill="#00B9E3" class="bx"/><line x1="506.87" y1="284.2" x2="507.67" y2="284.2" class="md"/>
<line x1="514.54" y1="205.2" x2="514.54" y2="250.6" class="w"/><line x1="514.54" y1="284.9" x2="514.54" y2="287.7" class="w"/><path d="M511.24,250.6H517.84V279.77L514.94,282L517.84,284.23V284.9H511.24V284.23L514.14,282L511.24,279.77Z" fill="#619CFF" class="bx"/><line x1="514.14" y1="282" x2="514.94" y2="282" class="md"/>
<line x1="521.81" y1="199.1" x2="521.81" y2="240.9" class="w"/><line x1="521.81" y1="282.8" x2="521.81" y2="287.7" class="w"/><path d="M518.51,240.9H525.11V272.48L522.21,275.2L525.11,277.92V282.8H518.51V277.92L521.41,275.2L518.51,272.48Z" fill="#DB72FB" class="bx"/><line x1="521.41" y1="275.2" x2="522.21" y2="275.2" class="md"/>
<line x1="529.08" y1="250.1" x2="529.08" y2="270" class="w"/><line x1="529.08" y1="282.8" x2="529.08" y2="287.7" class="w"/><rect x="527.42" y="242.3" width="3.31" height="7.8" class="o"/><circle cx="529.08" cy="242.3" r="1.95" class="o"/><circle cx="529.08" cy="244.9" r="1.95" class="o"/><circle cx="529.08" cy="247.5" r="1.95" class="o"/><circle cx="529.08" cy="250.1" r="1.95" class="o"/><circle cx="529.08" cy="203.3" r="1.95" class="o"/><circle cx="529.08" cy="215.4" r="1.95" class="o"/><circle cx="529.08" cy="224.6" r="1.95" class="o"/><circle cx="529.08" cy="231" r="1.95" class="o"/><circle cx="529.08" cy="236" r="1.95" class="o"/><path d="M525.78,270H532.38V277.67L529.48,278.5L532.38,279.33V282.8H525.78V279.33L528.68,278.5L525.78,277.67Z" fill="#FF61C3" class="bx"/><line x1="528.68" y1="278.5" x2="529.48" y2="278.5" class="md"/>
<line x1="557.92" y1="102.8" x2="557.92" y2="189.3" class="w"/><line x1="557.92" y1="249.4" x2="557.92" y2="287.8" class="w"/><circle cx="557.92" cy="89.1" r="1.95" class="o"/><circle cx="557.92" cy="93.9" r="1.95" class="o"/><path d="M554.62,189.3H561.22V218.99L558.32,222.9L561.22,226.81V249.4H554.62V226.81L557.52,222.9L554.62,218.99Z" fill="#F8766D" class="bx"/><line x1="557.52" y1="222.9" x2="558.32" y2="222.9" class="md"/>
<line x1="565.19" y1="141.3" x2="565.19" y2="212.6" class="w"/><line x1="565.19" y1="261.4" x2="565.19" y2="287.8" class="w"/><rect x="563.53" y="130.4" width="3.31" height="5.3" class="o"/><circle cx="565.19" cy="130.4" r="1.95" class="o"/><circle cx="565.19" cy="133.05" r="1.95" class="o"/><circle cx="565.19" cy="135.7" r="1.95" class="o"/><circle cx="565.19" cy="106.9" r="1.95" class="o"/><circle cx="565.19" cy="125.6" r="1.95" class="o"/><path d="M561.89,212.6H568.49V239.73L565.59,242.9L568.49,246.07V261.4H561.89V246.07L564.79,242.9L561.89,239.73Z" fill="#D39200" class="bx"/><line x1="564.79" y1="242.9" x2="565.59" y2="242.9" class="md"/>
<line x1="572.46" y1="165.3" x2="572.46" y2="223.7" class="w"/><line x1="572.46" y1="263.8" x2="572.46" y2="287.8" class="w"/><rect x="570.8" y="144.9" width="3.31" height="18" class="o"/><circle cx="572.46" cy="144.9" r="1.95" class="o"/><circle cx="572.46" cy="147.15" r="1.95" class="o"/><circle cx="572.46" cy="149.4" r="1.95" class="o"/><circle cx="572.46" cy="151.65" r="1.95" class="o"/><circle cx="572.46" cy="153.9" r="1.95" class="o"/><circle cx="572.46" cy="156.15" r="1.95" class="o"/><circle cx="572.46" cy="158.4" r="1.95" class="o"/><circle cx="572.46" cy="160.65" r="1.95" class="o"/><circle cx="572.46" cy="162.9" r="1.95" class="o"/><circle cx="572.46" cy="120.8" r="1.95" class="o"/><circle cx="572.46" cy="136.5" r="1.95" class="o"/><path d="M569.16,223.7H575.76V246.79L572.86,249.4L575.76,252.01V263.8H569.16V252.01L572.06,249.4L569.16,246.79Z" fill="#93AA00" class="bx"/><line x1="572.06" y1="249.4" x2="572.86" y2="249.4" class="md"/>
<line x1="579.73" y1="197.7" x2="579.73" y2="238.6" class="w"/><line x1="579.73" y1="266.2" x2="579.73" y2="287.8" class="w"/><rect x="578.07" y="174.9" width="3.31" height="22.8" class="o"/><circle cx="579.73" cy="174.9" r="1.95" class="o"/><circle cx="579.73" cy="177.43" r="1.95" class="o"/><circle cx="579.73" cy="179.97" r="1.95" class="o"/><circle cx="579.73" cy="182.5" r="1.95" class="o"/><circle cx="579.73" cy="185.03" r="1.95" class="o"/><circle cx="579.73" cy="187.57" r="1.95" class="o"/><circle cx="579.73" cy="190.1" r="1.95" class="o"/><circle cx="579.73" cy="192.63" r="1.95" class="o"/><circle cx="579.73" cy="195.17" r="1.95" class="o"/><circle cx="579.73" cy="197.7" r="1.95" class="o"/><circle cx="579.73" cy="162.4" r="1.95" class="o"/><circle cx="579.73" cy="170.1" r="1.95" class="o"/><path d="M576.43,238.6H583.03V254.81L580.13,256.6L583.03,258.39V266.2H576.43V258.39L579.33,256.6L576.43,254.81Z" fill="#00BA38" class="bx"/><line x1="579.33" y1="256.6" x2="580.13" y2="256.6" class="md"/>
<line x1="587" y1="209.7" x2="587" y2="244.6" class="w"/><line x1="587" y1="267.4" x2="587" y2="287.8" class="w"/><rect x="585.34" y="183.3" width="3.31" height="26.4" class="o"/><circle cx="587" cy="183.3" r="1.95" class="o"/><circle cx="587" cy="185.7" r="1.95" class="o"/><circle cx="587" cy="188.1" r="1.95" class="o"/><circle cx="587" cy="190.5" r="1.95" class="o"/><circle cx="587" cy="192.9" r="1.95" class="o"/><circle cx="587" cy="195.3" r="1.95" class="o"/><circle cx="587" cy="197.7" r="1.95" class="o"/><circle cx="587" cy="200.1" r="1.95" class="o"/><circle cx="587" cy="202.5" r="1.95" class="o"/><circle cx="587" cy="204.9" r="1.95" class="o"/><circle cx="587" cy="207.3" r="1.95" class="o"/><circle cx="587" cy="209.7" r="1.95" class="o"/><circle cx="587" cy="166.5" r="1.95" class="o"/><circle cx="587" cy="175.6" r="1.95" class="o"/><path d="M583.7,244.6H590.3V257.52L587.4,259L590.3,260.48V267.4H583.7V260.48L586.6,259L583.7,257.52Z" fill="#00C19F" class="bx"/><line x1="586.6" y1="259" x2="587.4" y2="259" class="md"/>
<line x1="594.27" y1="219.3" x2="594.27" y2="247.4" class="w"/><line x1="594.27" y1="271" x2="594.27" y2="287.8" class="w"/><rect x="592.61" y="203.7" width="3.31" height="15.6" class="o"/><circle cx="594.27" cy="203.7" r="1.95" class="o"/><circle cx="594.27" cy="205.93" r="1.95" class="o"/><circle cx="594.27" cy="208.16" r="1.95" class="o"/><circle cx="594.27" cy="210.39" r="1.95" class="o"/><circle cx="594.27" cy="212.61" r="1.95" class="o"/><circle cx="594.27" cy="214.84" r="1.95" class="o"/><circle cx="594.27" cy="217.07" r="1.95" class="o"/><circle cx="594.27" cy="219.3" r="1.95" class="o"/><circle cx="594.27" cy="190" r="1.95" class="o"/><path d="M590.97,247.4H597.57V262.27L594.67,263.8L597.57,265.33V271H590.97V265.33L593.87,263.8L590.97,262.27Z" fill="#00B9E3" class="bx"/><line x1="593.87" y1="263.8" x2="594.67" y2="263.8" class="md"/>
<line x1="601.54" y1="222.9" x2="601.54" y2="255.4" class="w"/><line x1="601.54" y1="277" x2="601.54" y2="287.8" class="w"/><rect x="599.88" y="204.9" width="3.31" height="18" class="o"/><circle cx="601.54" cy="204.9" r="1.95" class="o"/><circle cx="601.54" cy="207.15" r="1.95" class="o"/><circle cx="601.54" cy="209.4" r="1.95" class="o"/><circle cx="601.54" cy="211.65" r="1.95" class="o"/><circle cx="601.54" cy="213.9" r="1.95" class="o"/><circle cx="601.54" cy="216.15" r="1.95" class="o"/><circle cx="601.54" cy="218.4" r="1.95" class="o"/><circle cx="601.54" cy="220.65" r="1.95" class="o"/><circle cx="601.54" cy="222.9" r="1.95" class="o"/><circle cx="601.54" cy="198.4" r="1.95" class="o"/><path d="M598.24,255.4H604.84V265.5L601.94,266.9L604.84,268.3V277H598.24V268.3L601.14,266.9L598.24,265.5Z" fill="#619CFF" class="bx"/><line x1="601.14" y1="266.9" x2="601.94" y2="266.9" class="md"/>
<line x1="608.81" y1="189.3" x2="608.81" y2="241" class="w"/><line x1="608.81" y1="272.2" x2="608.81" y2="287.8" class="w"/><rect x="607.15" y="164.1" width="3.31" height="25.2" class="o"/><circle cx="608.81" cy="164.1" r="1.95" class="o"/><circle cx="608.81" cy="166.39" r="1.95" class="o"/><circle cx="608.81" cy="168.68" r="1.95" class="o"/><circle cx="608.81" cy="170.97" r="1.95" class="o"/><circle cx="608.81" cy="173.26" r="1.95" class="o"/><circle cx="608.81" cy="175.55" r="1.95" class="o"/><circle cx="608.81" cy="177.85" r="1.95" class="o"/><circle cx="608.81" cy="180.14" r="1.95" class="o"/><circle cx="608.81" cy="182.43" r="1.95" class="o"/><circle cx="608.81" cy="184.72" r="1.95" class="o"/><circle cx="608.81" cy="187.01" r="1.95" class="o"/><circle cx="608.81" cy="189.3" r="1.95" class="o"/><circle cx="608.81" cy="143.7" r="1.95" class="o"/><circle cx="608.81" cy="158.1" r="1.95" class="o"/><path d="M605.51,241H612.11V256.97L609.21,259L612.11,261.03V272.2H605.51V261.03L608.41,259L605.51,256.97Z" fill="#DB72FB" class="bx"/><line x1="608.41" y1="259" x2="609.21" y2="259" class="md"/>
<line x1="616.08" y1="190.5" x2="616.08" y2="238.6" class="w"/><line x1="616.08" y1="270.5" x2="616.08" y2="287.8" class="w"/><rect x="614.42" y="166.5" width="3.31" height="24" class="o"/><circle cx="616.08" cy="166.5" r="1.95" class="o"/><circle cx="616.08" cy="168.9" r="1.95" class="o"/><circle cx="616.08" cy="171.3" r="1.95" class="o"/><circle cx="616.08" cy="173.7" r="1.95" class="o"/><circle cx="616.08" cy="176.1" r="1.95" class="o"/><circle cx="616.08" cy="178.5" r="1.95" class="o"/><circle cx="616.08" cy="180.9" r="1.95" class="o"/><circle cx="616.08" cy="183.3" r="1.95" class="o"/><circle cx="616.08" cy="185.7" r="1.95" class="o"/><circle cx="616.08" cy="188.1" r="1.95" class="o"/><circle cx="616.08" cy="190.5" r="1.95" class="o"/><path d="M612.78,238.6H619.38V254.53L616.48,256.6L619.38,258.67V270.5H612.78V258.67L615.68,256.6L612.78,254.53Z" fill="#FF61C3" class="bx"/><line x1="615.68" y1="256.6" x2="616.48" y2="256.6" class="md"/>
<rect x="361" y="67" width="278" height="232" class="fr"/>
<line x1="357" y1="288.7" x2="361" y2="288.7" class="tk"/>
<text class="tl" transform="translate(353,288.7) rotate(-90)" text-anchor="middle">0.0</text>
<line x1="357" y1="235" x2="361" y2="235" class="tk"/>
<text class="tl" transform="translate(353,235) rotate(-90)" text-anchor="middle">0.5</text>
<line x1="357" y1="181.3" x2="361" y2="181.3" class="tk"/>
<text class="tl" transform="translate(353,181.3) rotate(-90)" text-anchor="middle">1.0</text>
<line x1="357" y1="127.6" x2="361" y2="127.6" class="tk"/>
<text class="tl" transform="translate(353,127.6) rotate(-90)" text-anchor="middle">1.5</text>
<line x1="357" y1="73.6" x2="361" y2="73.6" class="tk"/>
<text class="tl" transform="translate(353,73.6) rotate(-90)" text-anchor="middle">2.0</text>
<line x1="413" y1="299" x2="413" y2="303" class="tk"/>
<text class="tl" x="413" y="313.4" text-anchor="middle">Temperature</text>
<line x1="500" y1="299" x2="500" y2="303" class="tk"/>
<text class="tl" x="500" y="313.4" text-anchor="middle">Precipitation</text>
<line x1="587" y1="299" x2="587" y2="303" class="tk"/>
<text class="tl" x="587" y="313.4" text-anchor="middle">Streamflow</text>
<text class="ti" x="500" y="328" text-anchor="middle">Time series type</text>
<text class="ti" transform="translate(339,183) rotate(-90)" text-anchor="middle">x_pacf5</text>
<text class="pl" x="361" y="55.7">(b)</text>
<line x1="31" y1="583" x2="309" y2="583" class="g"/><line x1="31" y1="521.6" x2="309" y2="521.6" class="g"/><line x1="31" y1="460.3" x2="309" y2="460.3" class="g"/><line x1="31" y1="398.8" x2="309" y2="398.8" class="g"/><line x1="83" y1="360" x2="83" y2="592.4" class="g"/><line x1="170" y1="360" x2="170" y2="592.4" class="g"/><line x1="257" y1="360" x2="257" y2="592.4" class="g"/>
<line x1="53.92" y1="551.9" x2="53.92" y2="560.5" class="w"/><line x1="53.92" y1="567" x2="53.92" y2="574.4" class="w"/><rect x="52.26" y="546.2" width="3.31" height="5.7" class="o"/><circle cx="53.92" cy="546.2" r="1.95" class="o"/><circle cx="53.92" cy="549.05" r="1.95" class="o"/><circle cx="53.92" cy="551.9" r="1.95" class="o"/><circle cx="53.92" cy="576.7" r="1.95" class="o"/><path d="M50.62,560.5H57.22V563.48L54.32,563.9L57.22,564.32V567H50.62V564.32L53.52,563.9L50.62,563.48Z" fill="#F8766D" class="bx"/><line x1="53.52" y1="563.9" x2="54.32" y2="563.9" class="md"/>
<line x1="61.19" y1="559.4" x2="61.19" y2="564.8" class="w"/><line x1="61.19" y1="569.2" x2="61.19" y2="572.5" class="w"/><path d="M57.89,564.8H64.49V566.61L61.59,566.9L64.49,567.19V569.2H57.89V567.19L60.79,566.9L57.89,566.61Z" fill="#D39200" class="bx"/><line x1="60.79" y1="566.9" x2="61.59" y2="566.9" class="md"/>
<line x1="68.46" y1="557.5" x2="68.46" y2="562.6" class="w"/><line x1="68.46" y1="567" x2="68.46" y2="571.5" class="w"/><circle cx="68.46" cy="556.1" r="1.95" class="o"/><path d="M65.16,562.6H71.76V564.51L68.86,564.8L71.76,565.09V567H65.16V565.09L68.06,564.8L65.16,564.51Z" fill="#93AA00" class="bx"/><line x1="68.06" y1="564.8" x2="68.86" y2="564.8" class="md"/>
<line x1="75.73" y1="565.5" x2="75.73" y2="568" class="w"/><line x1="75.73" y1="571.1" x2="75.73" y2="573.9" class="w"/><rect x="74.07" y="561.2" width="3.31" height="4.3" class="o"/><circle cx="75.73" cy="561.2" r="1.95" class="o"/><circle cx="75.73" cy="563.35" r="1.95" class="o"/><circle cx="75.73" cy="565.5" r="1.95" class="o"/><path d="M72.43,568H79.03V569L76.13,569.2L79.03,569.4V571.1H72.43V569.4L75.33,569.2L72.43,569Z" fill="#00BA38" class="bx"/><line x1="75.33" y1="569.2" x2="76.13" y2="569.2" class="md"/>
<line x1="83" y1="558.9" x2="83" y2="565.7" class="w"/><line x1="83" y1="570.1" x2="83" y2="575.3" class="w"/><rect x="81.34" y="555.6" width="3.31" height="3.3" class="o"/><circle cx="83" cy="555.6" r="1.95" class="o"/><circle cx="83" cy="558.9" r="1.95" class="o"/><path d="M79.7,565.7H86.3V567.51L83.4,567.8L86.3,568.09V570.1H79.7V568.09L82.6,567.8L79.7,567.51Z" fill="#00C19F" class="bx"/><line x1="82.6" y1="567.8" x2="83.4" y2="567.8" class="md"/>
<line x1="90.27" y1="446" x2="90.27" y2="472.5" class="w"/><line x1="90.27" y1="499.8" x2="90.27" y2="541.1" class="w"/><rect x="88.61" y="541.1" width="3.31" height="6.1" class="o"/><circle cx="90.27" cy="541.1" r="1.95" class="o"/><circle cx="90.27" cy="543.13" r="1.95" class="o"/><circle cx="90.27" cy="545.17" r="1.95" class="o"/><circle cx="90.27" cy="547.2" r="1.95" class="o"/><circle cx="90.27" cy="553.6" r="1.95" class="o"/><circle cx="90.27" cy="562.6" r="1.95" class="o"/><path d="M86.97,472.5H93.57V481.93L90.67,483.7L93.57,485.47V499.8H86.97V485.47L89.87,483.7L86.97,481.93Z" fill="#00B9E3" class="bx"/><line x1="89.87" y1="483.7" x2="90.67" y2="483.7" class="md"/>
<line x1="97.54" y1="373.7" x2="97.54" y2="383.5" class="w"/><line x1="97.54" y1="391.1" x2="97.54" y2="401" class="w"/><rect x="95.88" y="369.3" width="3.31" height="4.4" class="o"/><circle cx="97.54" cy="369.3" r="1.95" class="o"/><circle cx="97.54" cy="371.5" r="1.95" class="o"/><circle cx="97.54" cy="373.7" r="1.95" class="o"/><rect x="95.88" y="401" width="3.31" height="14.7" class="o"/><circle cx="97.54" cy="401" r="1.95" class="o"/><circle cx="97.54" cy="403.45" r="1.95" class="o"/><circle cx="97.54" cy="405.9" r="1.95" class="o"/><circle cx="97.54" cy="408.35" r="1.95" class="o"/><circle cx="97.54" cy="410.8" r="1.95" class="o"/><circle cx="97.54" cy="413.25" r="1.95" class="o"/><circle cx="97.54" cy="415.7" r="1.95" class="o"/><circle cx="97.54" cy="424.5" r="1.95" class="o"/><circle cx="97.54" cy="436.3" r="1.95" class="o"/><path d="M94.24,383.5H100.84V386.81L97.94,387.3L100.84,387.79V391.1H94.24V387.79L97.14,387.3L94.24,386.81Z" fill="#619CFF" class="bx"/><line x1="97.14" y1="387.3" x2="97.94" y2="387.3" class="md"/>
<line x1="104.81" y1="391.1" x2="104.81" y2="405.4" class="w"/><line x1="104.81" y1="449.4" x2="104.81" y2="457.5" class="w"/><path d="M101.51,405.4H108.11V434.74L105.21,437.6L108.11,440.46V449.4H101.51V440.46L104.41,437.6L101.51,434.74Z" fill="#DB72FB" class="bx"/><line x1="104.41" y1="437.6" x2="105.21" y2="437.6" class="md"/>
<line x1="112.08" y1="444.2" x2="112.08" y2="451.4" class="w"/><line x1="112.08" y1="456.5" x2="112.08" y2="461.8" class="w"/><rect x="110.42" y="463.5" width="3.31" height="4.3" class="o"/><circle cx="112.08" cy="463.5" r="1.95" class="o"/><circle cx="112.08" cy="465.65" r="1.95" class="o"/><circle cx="112.08" cy="467.8" r="1.95" class="o"/><circle cx="112.08" cy="441.1" r="1.95" class="o"/><path d="M108.78,451.4H115.38V453.67L112.48,454L115.38,454.33V456.5H108.78V454.33L111.68,454L108.78,453.67Z" fill="#FF61C3" class="bx"/><line x1="111.68" y1="454" x2="112.48" y2="454" class="md"/>
<line x1="140.92" y1="534.9" x2="140.92" y2="542.5" class="w"/><line x1="140.92" y1="556.8" x2="140.92" y2="569.6" class="w"/><path d="M137.62,542.5H144.22V544.67L141.32,545.6L144.22,546.53V556.8H137.62V546.53L140.52,545.6L137.62,544.67Z" fill="#F8766D" class="bx"/><line x1="140.52" y1="545.6" x2="141.32" y2="545.6" class="md"/>
<line x1="148.19" y1="525.3" x2="148.19" y2="530.8" class="w"/><line x1="148.19" y1="546.4" x2="148.19" y2="561.7" class="w"/><path d="M144.89,530.8H151.49V531.89L148.59,532.9L151.49,533.91V546.4H144.89V533.91L147.79,532.9L144.89,531.89Z" fill="#D39200" class="bx"/><line x1="147.79" y1="532.9" x2="148.59" y2="532.9" class="md"/>
<line x1="155.46" y1="522.2" x2="155.46" y2="527.2" class="w"/><line x1="155.46" y1="541.5" x2="155.46" y2="553.3" class="w"/><path d="M152.16,527.2H158.76V528.57L155.86,529.5L158.76,530.43V541.5H152.16V530.43L155.06,529.5L152.16,528.57Z" fill="#93AA00" class="bx"/><line x1="155.06" y1="529.5" x2="155.86" y2="529.5" class="md"/>
<line x1="162.73" y1="521.1" x2="162.73" y2="526.5" class="w"/><line x1="162.73" y1="535.4" x2="162.73" y2="544.1" class="w"/><path d="M159.43,526.5H166.03V528.22L163.13,528.8L166.03,529.38V535.4H159.43V529.38L162.33,528.8L159.43,528.22Z" fill="#00BA38" class="bx"/><line x1="162.33" y1="528.8" x2="163.13" y2="528.8" class="md"/>
<line x1="170" y1="519.6" x2="170" y2="528.8" class="w"/><line x1="170" y1="545.1" x2="170" y2="556.3" class="w"/><path d="M166.7,528.8H173.3V534.64L170.4,535.7L173.3,536.76V545.1H166.7V536.76L169.6,535.7L166.7,534.64Z" fill="#00C19F" class="bx"/><line x1="169.6" y1="535.7" x2="170.4" y2="535.7" class="md"/>
<line x1="177.27" y1="521.9" x2="177.27" y2="533.1" class="w"/><line x1="177.27" y1="558.9" x2="177.27" y2="573.6" class="w"/><path d="M173.97,533.1H180.57V539.32L177.67,541L180.57,542.68V558.9H173.97V542.68L176.87,541L173.97,539.32Z" fill="#00B9E3" class="bx"/><line x1="176.87" y1="541" x2="177.67" y2="541" class="md"/>
<line x1="184.54" y1="466.5" x2="184.54" y2="501.2" class="w"/><line x1="184.54" y1="527.2" x2="184.54" y2="552.8" class="w"/><path d="M181.24,501.2H187.84V516.41L184.94,518.1L187.84,519.79V527.2H181.24V519.79L184.14,518.1L181.24,516.41Z" fill="#619CFF" class="bx"/><line x1="184.14" y1="518.1" x2="184.94" y2="518.1" class="md"/>
<line x1="191.81" y1="441.7" x2="191.81" y2="480.6" class="w"/><line x1="191.81" y1="525" x2="191.81" y2="551" class="w"/><path d="M188.51,480.6H195.11V504.91L192.21,507.8L195.11,510.69V525H188.51V510.69L191.41,507.8L188.51,504.91Z" fill="#DB72FB" class="bx"/><line x1="191.41" y1="507.8" x2="192.21" y2="507.8" class="md"/>
<line x1="199.08" y1="474.5" x2="199.08" y2="506.6" class="w"/><line x1="199.08" y1="527.2" x2="199.08" y2="551.7" class="w"/><rect x="197.42" y="458.1" width="3.31" height="16.4" class="o"/><circle cx="199.08" cy="458.1" r="1.95" class="o"/><circle cx="199.08" cy="460.44" r="1.95" class="o"/><circle cx="199.08" cy="462.79" r="1.95" class="o"/><circle cx="199.08" cy="465.13" r="1.95" class="o"/><circle cx="199.08" cy="467.47" r="1.95" class="o"/><circle cx="199.08" cy="469.81" r="1.95" class="o"/><circle cx="199.08" cy="472.16" r="1.95" class="o"/><circle cx="199.08" cy="474.5" r="1.95" class="o"/><path d="M195.78,506.6H202.38V517.46L199.48,518.8L202.38,520.14V527.2H195.78V520.14L198.68,518.8L195.78,517.46Z" fill="#FF61C3" class="bx"/><line x1="198.68" y1="518.8" x2="199.48" y2="518.8" class="md"/>
<line x1="227.92" y1="534.2" x2="227.92" y2="556.4" class="w"/><line x1="227.92" y1="569.4" x2="227.92" y2="581.5" class="w"/><rect x="226.26" y="517.4" width="3.31" height="16.8" class="o"/><circle cx="227.92" cy="517.4" r="1.95" class="o"/><circle cx="227.92" cy="519.8" r="1.95" class="o"/><circle cx="227.92" cy="522.2" r="1.95" class="o"/><circle cx="227.92" cy="524.6" r="1.95" class="o"/><circle cx="227.92" cy="527" r="1.95" class="o"/><circle cx="227.92" cy="529.4" r="1.95" class="o"/><circle cx="227.92" cy="531.8" r="1.95" class="o"/><circle cx="227.92" cy="534.2" r="1.95" class="o"/><circle cx="227.92" cy="474.8" r="1.95" class="o"/><circle cx="227.92" cy="477.5" r="1.95" class="o"/><circle cx="227.92" cy="491.5" r="1.95" class="o"/><circle cx="227.92" cy="494.2" r="1.95" class="o"/><circle cx="227.92" cy="500.2" r="1.95" class="o"/><circle cx="227.92" cy="511" r="1.95" class="o"/><path d="M224.62,556.4H231.22V560.25L228.32,561.1L231.22,561.95V569.4H224.62V561.95L227.52,561.1L224.62,560.25Z" fill="#F8766D" class="bx"/><line x1="227.52" y1="561.1" x2="228.32" y2="561.1" class="md"/>
<line x1="235.19" y1="523.9" x2="235.19" y2="551.4" class="w"/><line x1="235.19" y1="567" x2="235.19" y2="581.5" class="w"/><circle cx="235.19" cy="492" r="1.95" class="o"/><circle cx="235.19" cy="512.8" r="1.95" class="o"/><circle cx="235.19" cy="516.9" r="1.95" class="o"/><circle cx="235.19" cy="523.9" r="1.95" class="o"/><path d="M231.89,551.4H238.49V559.09L235.59,560.1L238.49,561.11V567H231.89V561.11L234.79,560.1L231.89,559.09Z" fill="#D39200" class="bx"/><line x1="234.79" y1="560.1" x2="235.59" y2="560.1" class="md"/>
<line x1="242.46" y1="525.4" x2="242.46" y2="549.6" class="w"/><line x1="242.46" y1="564.8" x2="242.46" y2="580.6" class="w"/><circle cx="242.46" cy="503.9" r="1.95" class="o"/><path d="M239.16,549.6H245.76V557.31L242.86,558.3L245.76,559.29V564.8H239.16V559.29L242.06,558.3L239.16,557.31Z" fill="#93AA00" class="bx"/><line x1="242.06" y1="558.3" x2="242.86" y2="558.3" class="md"/>
<line x1="249.73" y1="526.2" x2="249.73" y2="547.1" class="w"/><line x1="249.73" y1="564.4" x2="249.73" y2="581.5" class="w"/><path d="M246.43,547.1H253.03V553.98L250.13,555.1L253.03,556.22V564.4H246.43V556.22L249.33,555.1L246.43,553.98Z" fill="#00BA38" class="bx"/><line x1="249.33" y1="555.1" x2="250.13" y2="555.1" class="md"/>
<line x1="257" y1="531.4" x2="257" y2="552.2" class="w"/><line x1="257" y1="565.7" x2="257" y2="580.6" class="w"/><rect x="255.34" y="526.7" width="3.31" height="4.7" class="o"/><circle cx="257" cy="526.7" r="1.95" class="o"/><circle cx="257" cy="529.05" r="1.95" class="o"/><circle cx="257" cy="531.4" r="1.95" class="o"/><circle cx="257" cy="515.6" r="1.95" class="o"/><path d="M253.7,552.2H260.3V557.42L257.4,558.3L260.3,559.18V565.7H253.7V559.18L256.6,558.3L253.7,557.42Z" fill="#00C19F" class="bx"/><line x1="256.6" y1="558.3" x2="257.4" y2="558.3" class="md"/>
<line x1="264.27" y1="532.3" x2="264.27" y2="553.3" class="w"/><line x1="264.27" y1="566.3" x2="264.27" y2="578.7" class="w"/><rect x="262.61" y="525.8" width="3.31" height="6.5" class="o"/><circle cx="264.27" cy="525.8" r="1.95" class="o"/><circle cx="264.27" cy="527.97" r="1.95" class="o"/><circle cx="264.27" cy="530.13" r="1.95" class="o"/><circle cx="264.27" cy="532.3" r="1.95" class="o"/><path d="M260.97,553.3H267.57V560.25L264.67,561.1L267.57,561.95V566.3H260.97V561.95L263.87,561.1L260.97,560.25Z" fill="#00B9E3" class="bx"/><line x1="263.87" y1="561.1" x2="264.67" y2="561.1" class="md"/>
<line x1="271.54" y1="427.4" x2="271.54" y2="493.3" class="w"/><line x1="271.54" y1="537.9" x2="271.54" y2="571.3" class="w"/><path d="M268.24,493.3H274.84V520.1L271.94,523L274.84,525.9V537.9H268.24V525.9L271.14,523L268.24,520.1Z" fill="#619CFF" class="bx"/><line x1="271.14" y1="523" x2="271.94" y2="523" class="md"/>
<line x1="278.81" y1="428.4" x2="278.81" y2="484" class="w"/><line x1="278.81" y1="531.4" x2="278.81" y2="569.4" class="w"/><path d="M275.51,484H282.11V513.42L279.21,516.5L282.11,519.58V531.4H275.51V519.58L278.41,516.5L275.51,513.42Z" fill="#DB72FB" class="bx"/><line x1="278.41" y1="516.5" x2="279.21" y2="516.5" class="md"/>
<line x1="286.08" y1="433.4" x2="286.08" y2="473.8" class="w"/><line x1="286.08" y1="509.1" x2="286.08" y2="550.9" class="w"/><circle cx="286.08" cy="563.9" r="1.95" class="o"/><path d="M282.78,473.8H289.38V488.21L286.48,490.5L289.38,492.79V509.1H282.78V492.79L285.68,490.5L282.78,488.21Z" fill="#FF61C3" class="bx"/><line x1="285.68" y1="490.5" x2="286.48" y2="490.5" class="md"/>
<rect x="31" y="360" width="278" height="232.39999999999998" class="fr"/>
<line x1="27" y1="583" x2="31" y2="583" class="tk"/>
<text class="tl" transform="translate(23,583) rotate(-90)" text-anchor="middle">0.0</text>
<line x1="27" y1="521.6" x2="31" y2="521.6" class="tk"/>
<text class="tl" transform="translate(23,521.6) rotate(-90)" text-anchor="middle">0.5</text>
<line x1="27" y1="460.3" x2="31" y2="460.3" class="tk"/>
<text class="tl" transform="translate(23,460.3) rotate(-90)" text-anchor="middle">1.0</text>
<line x1="27" y1="398.8" x2="31" y2="398.8" class="tk"/>
<text class="tl" transform="translate(23,398.8) rotate(-90)" text-anchor="middle">1.5</text>
<line x1="83" y1="592.4" x2="83" y2="596.4" class="tk"/>
<text class="tl" x="83" y="606.8" text-anchor="middle">Temperature</text>
<line x1="170" y1="592.4" x2="170" y2="596.4" class="tk"/>
<text class="tl" x="170" y="606.8" text-anchor="middle">Precipitation</text>
<line x1="257" y1="592.4" x2="257" y2="596.4" class="tk"/>
<text class="tl" x="257" y="606.8" text-anchor="middle">Streamflow</text>
<text class="ti" x="170" y="621.4" text-anchor="middle">Time series type</text>
<text class="ti" transform="translate(9,476.2) rotate(-90)" text-anchor="middle">diff1x_pacf5</text>
<text class="pl" x="31" y="348.7">(c)</text>
<line x1="361" y1="583.5" x2="639" y2="583.5" class="g"/><line x1="361" y1="519.3" x2="639" y2="519.3" class="g"/><line x1="361" y1="455.1" x2="639" y2="455.1" class="g"/><line x1="361" y1="390.9" x2="639" y2="390.9" class="g"/><line x1="413" y1="360" x2="413" y2="592.4" class="g"/><line x1="500" y1="360" x2="500" y2="592.4" class="g"/><line x1="587" y1="360" x2="587" y2="592.4" class="g"/>
<line x1="383.92" y1="523.7" x2="383.92" y2="530.5" class="w"/><line x1="383.92" y1="535.7" x2="383.92" y2="541.8" class="w"/><rect x="382.26" y="498.8" width="3.31" height="4.6" class="o"/><circle cx="383.92" cy="498.8" r="1.95" class="o"/><circle cx="383.92" cy="501.1" r="1.95" class="o"/><circle cx="383.92" cy="503.4" r="1.95" class="o"/><rect x="382.26" y="508.6" width="3.31" height="15.1" class="o"/><circle cx="383.92" cy="508.6" r="1.95" class="o"/><circle cx="383.92" cy="511.12" r="1.95" class="o"/><circle cx="383.92" cy="513.63" r="1.95" class="o"/><circle cx="383.92" cy="516.15" r="1.95" class="o"/><circle cx="383.92" cy="518.67" r="1.95" class="o"/><circle cx="383.92" cy="521.18" r="1.95" class="o"/><circle cx="383.92" cy="523.7" r="1.95" class="o"/><rect x="382.26" y="541.8" width="3.31" height="8.1" class="o"/><circle cx="383.92" cy="541.8" r="1.95" class="o"/><circle cx="383.92" cy="544.5" r="1.95" class="o"/><circle cx="383.92" cy="547.2" r="1.95" class="o"/><circle cx="383.92" cy="549.9" r="1.95" class="o"/><path d="M380.62,530.5H387.22V532.76L384.32,533.1L387.22,533.44V535.7H380.62V533.44L383.52,533.1L380.62,532.76Z" fill="#F8766D" class="bx"/><line x1="383.52" y1="533.1" x2="384.32" y2="533.1" class="md"/>
<line x1="391.19" y1="492.9" x2="391.19" y2="501.7" class="w"/><line x1="391.19" y1="509.3" x2="391.19" y2="520.4" class="w"/><rect x="389.53" y="520.4" width="3.31" height="7.9" class="o"/><circle cx="391.19" cy="520.4" r="1.95" class="o"/><circle cx="391.19" cy="523.03" r="1.95" class="o"/><circle cx="391.19" cy="525.67" r="1.95" class="o"/><circle cx="391.19" cy="528.3" r="1.95" class="o"/><path d="M387.89,501.7H394.49V504.91L391.59,505.4L394.49,505.89V509.3H387.89V505.89L390.79,505.4L387.89,504.91Z" fill="#D39200" class="bx"/><line x1="390.79" y1="505.4" x2="391.59" y2="505.4" class="md"/>
<line x1="398.46" y1="480.2" x2="398.46" y2="488.6" class="w"/><line x1="398.46" y1="497.8" x2="398.46" y2="511.2" class="w"/><path d="M395.16,488.6H401.76V491.9L398.86,492.5L401.76,493.1V497.8H395.16V493.1L398.06,492.5L395.16,491.9Z" fill="#93AA00" class="bx"/><line x1="398.06" y1="492.5" x2="398.86" y2="492.5" class="md"/>
<line x1="405.73" y1="472.1" x2="405.73" y2="476.3" class="w"/><line x1="405.73" y1="481.1" x2="405.73" y2="484.4" class="w"/><rect x="404.07" y="467.1" width="3.31" height="5" class="o"/><circle cx="405.73" cy="467.1" r="1.95" class="o"/><circle cx="405.73" cy="469.6" r="1.95" class="o"/><circle cx="405.73" cy="472.1" r="1.95" class="o"/><rect x="404.07" y="485.5" width="3.31" height="2.8" class="o"/><circle cx="405.73" cy="485.5" r="1.95" class="o"/><circle cx="405.73" cy="488.3" r="1.95" class="o"/><path d="M402.43,476.3H409.03V477.99L406.13,478.3L409.03,478.61V481.1H402.43V478.61L405.33,478.3L402.43,477.99Z" fill="#00BA38" class="bx"/><line x1="405.33" y1="478.3" x2="406.13" y2="478.3" class="md"/>
<line x1="413" y1="497.5" x2="413" y2="505.6" class="w"/><line x1="413" y1="511.6" x2="413" y2="520.4" class="w"/><rect x="411.34" y="492.9" width="3.31" height="4.6" class="o"/><circle cx="413" cy="492.9" r="1.95" class="o"/><circle cx="413" cy="495.2" r="1.95" class="o"/><circle cx="413" cy="497.5" r="1.95" class="o"/><rect x="411.34" y="520.4" width="3.31" height="3.9" class="o"/><circle cx="413" cy="520.4" r="1.95" class="o"/><circle cx="413" cy="522.35" r="1.95" class="o"/><circle cx="413" cy="524.3" r="1.95" class="o"/><circle cx="413" cy="487.7" r="1.95" class="o"/><path d="M409.7,505.6H416.3V508.21L413.4,508.6L416.3,508.99V511.6H409.7V508.99L412.6,508.6L409.7,508.21Z" fill="#00C19F" class="bx"/><line x1="412.6" y1="508.6" x2="413.4" y2="508.6" class="md"/>
<line x1="420.27" y1="543.3" x2="420.27" y2="551.2" class="w"/><line x1="420.27" y1="559.7" x2="420.27" y2="566.9" class="w"/><path d="M416.97,551.2H423.57V555.25L420.67,555.8L423.57,556.35V559.7H416.97V556.35L419.87,555.8L416.97,555.25Z" fill="#00B9E3" class="bx"/><line x1="419.87" y1="555.8" x2="420.67" y2="555.8" class="md"/>
<line x1="427.54" y1="374.2" x2="427.54" y2="394.3" class="w"/><line x1="427.54" y1="407.5" x2="427.54" y2="427.4" class="w"/><rect x="425.88" y="369.2" width="3.31" height="5" class="o"/><circle cx="427.54" cy="369.2" r="1.95" class="o"/><circle cx="427.54" cy="371.7" r="1.95" class="o"/><circle cx="427.54" cy="374.2" r="1.95" class="o"/><rect x="425.88" y="427.4" width="3.31" height="7.8" class="o"/><circle cx="427.54" cy="427.4" r="1.95" class="o"/><circle cx="427.54" cy="430" r="1.95" class="o"/><circle cx="427.54" cy="432.6" r="1.95" class="o"/><circle cx="427.54" cy="435.2" r="1.95" class="o"/><circle cx="427.54" cy="448" r="1.95" class="o"/><path d="M424.24,394.3H430.84V400.04L427.94,400.9L430.84,401.76V407.5H424.24V401.76L427.14,400.9L424.24,400.04Z" fill="#619CFF" class="bx"/><line x1="427.14" y1="400.9" x2="427.94" y2="400.9" class="md"/>
<line x1="434.81" y1="381.3" x2="434.81" y2="406.5" class="w"/><line x1="434.81" y1="434.5" x2="434.81" y2="449.4" class="w"/><path d="M431.51,406.5H438.11V420.58L435.21,422.4L438.11,424.22V434.5H431.51V424.22L434.41,422.4L431.51,420.58Z" fill="#DB72FB" class="bx"/><line x1="434.41" y1="422.4" x2="435.21" y2="422.4" class="md"/>
<line x1="442.08" y1="447.2" x2="442.08" y2="452.9" class="w"/><line x1="442.08" y1="457.2" x2="442.08" y2="460.7" class="w"/><rect x="440.42" y="440.1" width="3.31" height="7.1" class="o"/><circle cx="442.08" cy="440.1" r="1.95" class="o"/><circle cx="442.08" cy="442.47" r="1.95" class="o"/><circle cx="442.08" cy="444.83" r="1.95" class="o"/><circle cx="442.08" cy="447.2" r="1.95" class="o"/><circle cx="442.08" cy="431.2" r="1.95" class="o"/><path d="M438.78,452.9H445.38V454.52L442.48,454.8L445.38,455.08V457.2H438.78V455.08L441.68,454.8L438.78,454.52Z" fill="#FF61C3" class="bx"/><line x1="441.68" y1="454.8" x2="442.48" y2="454.8" class="md"/>
<line x1="470.92" y1="465" x2="470.92" y2="474.2" class="w"/><line x1="470.92" y1="489.5" x2="470.92" y2="513.2" class="w"/><circle cx="470.92" cy="514" r="1.95" class="o"/><path d="M467.62,474.2H474.22V477.01L471.32,478L474.22,478.99V489.5H467.62V478.99L470.52,478L467.62,477.01Z" fill="#F8766D" class="bx"/><line x1="470.52" y1="478" x2="471.32" y2="478" class="md"/>
<line x1="478.19" y1="452.3" x2="478.19" y2="458.9" class="w"/><line x1="478.19" y1="475" x2="478.19" y2="497.9" class="w"/><path d="M474.89,458.9H481.49V460.15L478.59,461.2L481.49,462.25V475H474.89V462.25L477.79,461.2L474.89,460.15Z" fill="#D39200" class="bx"/><line x1="477.79" y1="461.2" x2="478.59" y2="461.2" class="md"/>
<line x1="485.46" y1="448.6" x2="485.46" y2="453.5" class="w"/><line x1="485.46" y1="470.4" x2="485.46" y2="490.6" class="w"/><path d="M482.16,453.5H488.76V455.5L485.86,456.6L488.76,457.7V470.4H482.16V457.7L485.06,456.6L482.16,455.5Z" fill="#93AA00" class="bx"/><line x1="485.06" y1="456.6" x2="485.86" y2="456.6" class="md"/>
<line x1="492.73" y1="445.6" x2="492.73" y2="452.8" class="w"/><line x1="492.73" y1="462" x2="492.73" y2="475.7" class="w"/><rect x="491.07" y="476.5" width="3.31" height="6.1" class="o"/><circle cx="492.73" cy="476.5" r="1.95" class="o"/><circle cx="492.73" cy="478.53" r="1.95" class="o"/><circle cx="492.73" cy="480.57" r="1.95" class="o"/><circle cx="492.73" cy="482.6" r="1.95" class="o"/><path d="M489.43,452.8H496.03V454.2L493.13,454.8L496.03,455.4V462H489.43V455.4L492.33,454.8L489.43,454.2Z" fill="#00BA38" class="bx"/><line x1="492.33" y1="454.8" x2="493.13" y2="454.8" class="md"/>
<line x1="500" y1="444.4" x2="500" y2="453.5" class="w"/><line x1="500" y1="463.5" x2="500" y2="477.2" class="w"/><rect x="498.34" y="481.8" width="3.31" height="3.9" class="o"/><circle cx="500" cy="481.8" r="1.95" class="o"/><circle cx="500" cy="483.75" r="1.95" class="o"/><circle cx="500" cy="485.7" r="1.95" class="o"/><path d="M496.7,453.5H503.3V456.75L500.4,457.4L503.3,458.05V463.5H496.7V458.05L499.6,457.4L496.7,456.75Z" fill="#00C19F" class="bx"/><line x1="499.6" y1="457.4" x2="500.4" y2="457.4" class="md"/>
<line x1="507.27" y1="446.7" x2="507.27" y2="460.9" class="w"/><line x1="507.27" y1="487.2" x2="507.27" y2="514" class="w"/><path d="M503.97,460.9H510.57V466.39L507.67,468.1L510.57,469.81V487.2H503.97V469.81L506.87,468.1L503.97,466.39Z" fill="#00B9E3" class="bx"/><line x1="506.87" y1="468.1" x2="507.67" y2="468.1" class="md"/>
<line x1="514.54" y1="439.8" x2="514.54" y2="462.4" class="w"/><line x1="514.54" y1="475.7" x2="514.54" y2="496.4" class="w"/><rect x="512.88" y="435.9" width="3.31" height="3.9" class="o"/><circle cx="514.54" cy="435.9" r="1.95" class="o"/><circle cx="514.54" cy="437.85" r="1.95" class="o"/><circle cx="514.54" cy="439.8" r="1.95" class="o"/><rect x="512.88" y="496.4" width="3.31" height="6.1" class="o"/><circle cx="514.54" cy="496.4" r="1.95" class="o"/><circle cx="514.54" cy="498.43" r="1.95" class="o"/><circle cx="514.54" cy="500.47" r="1.95" class="o"/><circle cx="514.54" cy="502.5" r="1.95" class="o"/><circle cx="514.54" cy="508.3" r="1.95" class="o"/><path d="M511.24,462.4H517.84V468.74L514.94,469.6L517.84,470.46V475.7H511.24V470.46L514.14,469.6L511.24,468.74Z" fill="#619CFF" class="bx"/><line x1="514.14" y1="469.6" x2="514.94" y2="469.6" class="md"/>
<line x1="521.81" y1="396.3" x2="521.81" y2="429.8" class="w"/><line x1="521.81" y1="462" x2="521.81" y2="501.7" class="w"/><path d="M518.51,429.8H525.11V443.81L522.21,445.9L525.11,447.99V462H518.51V447.99L521.41,445.9L518.51,443.81Z" fill="#DB72FB" class="bx"/><line x1="521.41" y1="445.9" x2="522.21" y2="445.9" class="md"/>
<line x1="529.08" y1="409.1" x2="529.08" y2="445.1" class="w"/><line x1="529.08" y1="473.1" x2="529.08" y2="511.4" class="w"/><circle cx="529.08" cy="381" r="1.95" class="o"/><path d="M525.78,445.1H532.38V454.78L529.48,456.6L532.38,458.42V473.1H525.78V458.42L528.68,456.6L525.78,454.78Z" fill="#FF61C3" class="bx"/><line x1="528.68" y1="456.6" x2="529.48" y2="456.6" class="md"/>
<line x1="557.92" y1="454.3" x2="557.92" y2="497.4" class="w"/><line x1="557.92" y1="536.8" x2="557.92" y2="581.3" class="w"/><path d="M554.62,497.4H561.22V514.54L558.32,517.1L561.22,519.66V536.8H554.62V519.66L557.52,517.1L554.62,514.54Z" fill="#F8766D" class="bx"/><line x1="557.52" y1="517.1" x2="558.32" y2="517.1" class="md"/>
<line x1="565.19" y1="452.8" x2="565.19" y2="481.2" class="w"/><line x1="565.19" y1="519.2" x2="565.19" y2="571.6" class="w"/><path d="M561.89,481.2H568.49V496.63L565.59,499.1L568.49,501.57V519.2H561.89V501.57L564.79,499.1L561.89,496.63Z" fill="#D39200" class="bx"/><line x1="564.79" y1="499.1" x2="565.59" y2="499.1" class="md"/>
<line x1="572.46" y1="450.8" x2="572.46" y2="477.1" class="w"/><line x1="572.46" y1="510.3" x2="572.46" y2="557.5" class="w"/><circle cx="572.46" cy="561.7" r="1.95" class="o"/><circle cx="572.46" cy="568.9" r="1.95" class="o"/><path d="M569.16,477.1H575.76V488.64L572.86,490.8L575.76,492.96V510.3H569.16V492.96L572.06,490.8L569.16,488.64Z" fill="#93AA00" class="bx"/><line x1="572.06" y1="490.8" x2="572.86" y2="490.8" class="md"/>
<line x1="579.73" y1="452.2" x2="579.73" y2="472.1" class="w"/><line x1="579.73" y1="495.8" x2="579.73" y2="534.3" class="w"/><rect x="578.07" y="534.3" width="3.31" height="28.4" class="o"/><circle cx="579.73" cy="534.3" r="1.95" class="o"/><circle cx="579.73" cy="536.67" r="1.95" class="o"/><circle cx="579.73" cy="539.03" r="1.95" class="o"/><circle cx="579.73" cy="541.4" r="1.95" class="o"/><circle cx="579.73" cy="543.77" r="1.95" class="o"/><circle cx="579.73" cy="546.13" r="1.95" class="o"/><circle cx="579.73" cy="548.5" r="1.95" class="o"/><circle cx="579.73" cy="550.87" r="1.95" class="o"/><circle cx="579.73" cy="553.23" r="1.95" class="o"/><circle cx="579.73" cy="555.6" r="1.95" class="o"/><circle cx="579.73" cy="557.97" r="1.95" class="o"/><circle cx="579.73" cy="560.33" r="1.95" class="o"/><circle cx="579.73" cy="562.7" r="1.95" class="o"/><path d="M576.43,472.1H583.03V480.36L580.13,481.9L583.03,483.44V495.8H576.43V483.44L579.33,481.9L576.43,480.36Z" fill="#00BA38" class="bx"/><line x1="579.33" y1="481.9" x2="580.13" y2="481.9" class="md"/>
<line x1="587" y1="440.4" x2="587" y2="473.6" class="w"/><line x1="587" y1="500.9" x2="587" y2="540.9" class="w"/><rect x="585.34" y="540.9" width="3.31" height="23.9" class="o"/><circle cx="587" cy="540.9" r="1.95" class="o"/><circle cx="587" cy="543.29" r="1.95" class="o"/><circle cx="587" cy="545.68" r="1.95" class="o"/><circle cx="587" cy="548.07" r="1.95" class="o"/><circle cx="587" cy="550.46" r="1.95" class="o"/><circle cx="587" cy="552.85" r="1.95" class="o"/><circle cx="587" cy="555.24" r="1.95" class="o"/><circle cx="587" cy="557.63" r="1.95" class="o"/><circle cx="587" cy="560.02" r="1.95" class="o"/><circle cx="587" cy="562.41" r="1.95" class="o"/><circle cx="587" cy="564.8" r="1.95" class="o"/><path d="M583.7,473.6H590.3V480.13L587.4,481.9L590.3,483.67V500.9H583.7V483.67L586.6,481.9L583.7,480.13Z" fill="#00C19F" class="bx"/><line x1="586.6" y1="481.9" x2="587.4" y2="481.9" class="md"/>
<line x1="594.27" y1="450.2" x2="594.27" y2="485.4" class="w"/><line x1="594.27" y1="511.9" x2="594.27" y2="550.3" class="w"/><circle cx="594.27" cy="555.9" r="1.95" class="o"/><path d="M590.97,485.4H597.57V492.58L594.67,494.3L597.57,496.02V511.9H590.97V496.02L593.87,494.3L590.97,492.58Z" fill="#00B9E3" class="bx"/><line x1="593.87" y1="494.3" x2="594.67" y2="494.3" class="md"/>
<line x1="601.54" y1="410.4" x2="601.54" y2="456.4" class="w"/><line x1="601.54" y1="486" x2="601.54" y2="531.6" class="w"/><rect x="599.88" y="396.3" width="3.31" height="14.1" class="o"/><circle cx="601.54" cy="396.3" r="1.95" class="o"/><circle cx="601.54" cy="398.65" r="1.95" class="o"/><circle cx="601.54" cy="401" r="1.95" class="o"/><circle cx="601.54" cy="403.35" r="1.95" class="o"/><circle cx="601.54" cy="405.7" r="1.95" class="o"/><circle cx="601.54" cy="408.05" r="1.95" class="o"/><circle cx="601.54" cy="410.4" r="1.95" class="o"/><circle cx="601.54" cy="382.3" r="1.95" class="o"/><circle cx="601.54" cy="393.1" r="1.95" class="o"/><path d="M598.24,456.4H604.84V471.68L601.94,473.6L604.84,475.52V486H598.24V475.52L601.14,473.6L598.24,471.68Z" fill="#619CFF" class="bx"/><line x1="601.14" y1="473.6" x2="601.94" y2="473.6" class="md"/>
<line x1="608.81" y1="387.5" x2="608.81" y2="437.3" class="w"/><line x1="608.81" y1="470" x2="608.81" y2="517.1" class="w"/><rect x="607.15" y="380.3" width="3.31" height="3.3" class="o"/><circle cx="608.81" cy="380.3" r="1.95" class="o"/><circle cx="608.81" cy="383.6" r="1.95" class="o"/><circle cx="608.81" cy="521.2" r="1.95" class="o"/><circle cx="608.81" cy="528.5" r="1.95" class="o"/><path d="M605.51,437.3H612.11V451.37L609.21,453.5L612.11,455.63V470H605.51V455.63L608.41,453.5L605.51,451.37Z" fill="#DB72FB" class="bx"/><line x1="608.41" y1="453.5" x2="609.21" y2="453.5" class="md"/>
<line x1="616.08" y1="400.6" x2="616.08" y2="434.2" class="w"/><line x1="616.08" y1="461.8" x2="616.08" y2="501.1" class="w"/><circle cx="616.08" cy="505.3" r="1.95" class="o"/><circle cx="616.08" cy="516.1" r="1.95" class="o"/><path d="M612.78,434.2H619.38V445.51L616.48,447.3L619.38,449.09V461.8H612.78V449.09L615.68,447.3L612.78,445.51Z" fill="#FF61C3" class="bx"/><line x1="615.68" y1="447.3" x2="616.48" y2="447.3" class="md"/>
<rect x="361" y="360" width="278" height="232.39999999999998" class="fr"/>
<line x1="357" y1="583.5" x2="361" y2="583.5" class="tk"/>
<text class="tl" transform="translate(353,583.5) rotate(-90)" text-anchor="middle">0.0</text>
<line x1="357" y1="519.3" x2="361" y2="519.3" class="tk"/>
<text class="tl" transform="translate(353,519.3) rotate(-90)" text-anchor="middle">0.5</text>
<line x1="357" y1="455.1" x2="361" y2="455.1" class="tk"/>
<text class="tl" transform="translate(353,455.1) rotate(-90)" text-anchor="middle">1.0</text>
<line x1="357" y1="390.9" x2="361" y2="390.9" class="tk"/>
<text class="tl" transform="translate(353,390.9) rotate(-90)" text-anchor="middle">1.5</text>
<line x1="413" y1="592.4" x2="413" y2="596.4" class="tk"/>
<text class="tl" x="413" y="606.8" text-anchor="middle">Temperature</text>
<line x1="500" y1="592.4" x2="500" y2="596.4" class="tk"/>
<text class="tl" x="500" y="606.8" text-anchor="middle">Precipitation</text>
<line x1="587" y1="592.4" x2="587" y2="596.4" class="tk"/>
<text class="tl" x="587" y="606.8" text-anchor="middle">Streamflow</text>
<text class="ti" x="500" y="621.4" text-anchor="middle">Time series type</text>
<text class="ti" transform="translate(339,476.2) rotate(-90)" text-anchor="middle">diff2x_pacf5</text>
<text class="pl" x="361" y="348.7">(d)</text>
<line x1="31" y1="873.5" x2="309" y2="873.5" class="g"/><line x1="31" y1="819.8" x2="309" y2="819.8" class="g"/><line x1="31" y1="766" x2="309" y2="766" class="g"/><line x1="31" y1="712.4" x2="309" y2="712.4" class="g"/><line x1="31" y1="658.6" x2="309" y2="658.6" class="g"/><line x1="83" y1="653" x2="83" y2="885.4" class="g"/><line x1="170" y1="653" x2="170" y2="885.4" class="g"/><line x1="257" y1="653" x2="257" y2="885.4" class="g"/>
<line x1="53.92" y1="817" x2="53.92" y2="818.8" class="w"/><line x1="53.92" y1="819.8" x2="53.92" y2="821" class="w"/><rect x="52.26" y="814.6" width="3.31" height="1" class="o"/><circle cx="53.92" cy="814.6" r="1.95" class="o"/><circle cx="53.92" cy="815.6" r="1.95" class="o"/><rect x="52.26" y="822.6" width="3.31" height="1.4" class="o"/><circle cx="53.92" cy="822.6" r="1.95" class="o"/><circle cx="53.92" cy="824" r="1.95" class="o"/><path d="M50.62,818.8H57.22V819.23L54.32,819.3L57.22,819.37V819.8H50.62V819.37L53.52,819.3L50.62,819.23Z" fill="#F8766D" class="bx"/><line x1="53.52" y1="819.3" x2="54.32" y2="819.3" class="md"/>
<line x1="61.19" y1="811.5" x2="61.19" y2="815.4" class="w"/><line x1="61.19" y1="820.5" x2="61.19" y2="824.4" class="w"/><path d="M57.89,815.4H64.49V817.77L61.59,818.1L64.49,818.43V820.5H57.89V818.43L60.79,818.1L57.89,817.77Z" fill="#D39200" class="bx"/><line x1="60.79" y1="818.1" x2="61.59" y2="818.1" class="md"/>
<line x1="68.46" y1="815.4" x2="68.46" y2="818.5" class="w"/><line x1="68.46" y1="820" x2="68.46" y2="821.5" class="w"/><rect x="66.8" y="825" width="3.31" height="2" class="o"/><circle cx="68.46" cy="825" r="1.95" class="o"/><circle cx="68.46" cy="827" r="1.95" class="o"/><path d="M65.16,818.5H71.76V819.2L68.86,819.3L71.76,819.4V820H65.16V819.4L68.06,819.3L65.16,819.2Z" fill="#93AA00" class="bx"/><line x1="68.06" y1="819.3" x2="68.86" y2="819.3" class="md"/>
<line x1="75.73" y1="807.2" x2="75.73" y2="812.7" class="w"/><line x1="75.73" y1="818.1" x2="75.73" y2="824.8" class="w"/><path d="M72.43,812.7H79.03V814.85L76.13,815.2L79.03,815.55V818.1H72.43V815.55L75.33,815.2L72.43,814.85Z" fill="#00BA38" class="bx"/><line x1="75.33" y1="815.2" x2="76.13" y2="815.2" class="md"/>
<line x1="83" y1="801" x2="83" y2="808.75" class="w"/><line x1="83" y1="817.7" x2="83" y2="822.4" class="w"/><path d="M79.7,808.75H86.3V812.42L83.4,813L86.3,813.58V817.7H79.7V813.58L82.6,813L79.7,812.42Z" fill="#00C19F" class="bx"/><line x1="82.6" y1="813" x2="83.4" y2="813" class="md"/>
<line x1="90.27" y1="775.9" x2="90.27" y2="792.2" class="w"/><line x1="90.27" y1="806.4" x2="90.27" y2="812.2" class="w"/><path d="M86.97,792.2H93.57V799.08L90.67,800L93.57,800.92V806.4H86.97V800.92L89.87,800L86.97,799.08Z" fill="#00B9E3" class="bx"/><line x1="89.87" y1="800" x2="90.67" y2="800" class="md"/>
<line x1="97.54" y1="722.8" x2="97.54" y2="751.3" class="w"/><line x1="97.54" y1="785.1" x2="97.54" y2="796.1" class="w"/><path d="M94.24,751.3H100.84V776.6L97.94,778.8L100.84,781V785.1H94.24V781L97.14,778.8L94.24,776.6Z" fill="#619CFF" class="bx"/><line x1="97.14" y1="778.8" x2="97.94" y2="778.8" class="md"/>
<line x1="104.81" y1="672.9" x2="104.81" y2="706.2" class="w"/><line x1="104.81" y1="765.3" x2="104.81" y2="779.5" class="w"/><path d="M101.51,706.2H108.11V754.56L105.21,758.4L108.11,762.24V765.3H101.51V762.24L104.41,758.4L101.51,754.56Z" fill="#DB72FB" class="bx"/><line x1="104.41" y1="758.4" x2="105.21" y2="758.4" class="md"/>
<line x1="112.08" y1="685.1" x2="112.08" y2="713.4" class="w"/><line x1="112.08" y1="732.4" x2="112.08" y2="757.6" class="w"/><rect x="110.42" y="662.2" width="3.31" height="22.9" class="o"/><circle cx="112.08" cy="662.2" r="1.95" class="o"/><circle cx="112.08" cy="664.49" r="1.95" class="o"/><circle cx="112.08" cy="666.78" r="1.95" class="o"/><circle cx="112.08" cy="669.07" r="1.95" class="o"/><circle cx="112.08" cy="671.36" r="1.95" class="o"/><circle cx="112.08" cy="673.65" r="1.95" class="o"/><circle cx="112.08" cy="675.94" r="1.95" class="o"/><circle cx="112.08" cy="678.23" r="1.95" class="o"/><circle cx="112.08" cy="680.52" r="1.95" class="o"/><circle cx="112.08" cy="682.81" r="1.95" class="o"/><circle cx="112.08" cy="685.1" r="1.95" class="o"/><path d="M108.78,713.4H115.38V723.56L112.48,724.8L115.38,726.03V732.4H108.78V726.03L111.68,724.8L108.78,723.56Z" fill="#FF61C3" class="bx"/><line x1="111.68" y1="724.8" x2="112.48" y2="724.8" class="md"/>
<line x1="140.92" y1="815" x2="140.92" y2="818.4" class="w"/><line x1="140.92" y1="820.6" x2="140.92" y2="822" class="w"/><circle cx="140.92" cy="813.4" r="1.95" class="o"/><circle cx="140.92" cy="823.6" r="1.95" class="o"/><path d="M137.62,818.4H144.22V819.36L141.32,819.5L144.22,819.64V820.6H137.62V819.64L140.52,819.5L137.62,819.36Z" fill="#F8766D" class="bx"/><line x1="140.52" y1="819.5" x2="141.32" y2="819.5" class="md"/>
<line x1="148.19" y1="813.4" x2="148.19" y2="817.5" class="w"/><line x1="148.19" y1="819.5" x2="148.19" y2="824.8" class="w"/><path d="M144.89,817.5H151.49V818.37L148.59,818.5L151.49,818.63V819.5H144.89V818.63L147.79,818.5L144.89,818.37Z" fill="#D39200" class="bx"/><line x1="147.79" y1="818.5" x2="148.59" y2="818.5" class="md"/>
<line x1="155.46" y1="810.3" x2="155.46" y2="816" class="w"/><line x1="155.46" y1="819.5" x2="155.46" y2="824.8" class="w"/><rect x="153.8" y="807.2" width="3.31" height="3.1" class="o"/><circle cx="155.46" cy="807.2" r="1.95" class="o"/><circle cx="155.46" cy="810.3" r="1.95" class="o"/><path d="M152.16,816H158.76V817.27L155.86,817.5L158.76,817.73V819.5H152.16V817.73L155.06,817.5L152.16,817.27Z" fill="#93AA00" class="bx"/><line x1="155.06" y1="817.5" x2="155.86" y2="817.5" class="md"/>
<line x1="162.73" y1="800.4" x2="162.73" y2="812.6" class="w"/><line x1="162.73" y1="819.5" x2="162.73" y2="829.4" class="w"/><rect x="161.07" y="794.2" width="3.31" height="6.2" class="o"/><circle cx="162.73" cy="794.2" r="1.95" class="o"/><circle cx="162.73" cy="796.27" r="1.95" class="o"/><circle cx="162.73" cy="798.33" r="1.95" class="o"/><circle cx="162.73" cy="800.4" r="1.95" class="o"/><path d="M159.43,812.6H166.03V815.25L163.13,815.7L166.03,816.15V819.5H159.43V816.15L162.33,815.7L159.43,815.25Z" fill="#00BA38" class="bx"/><line x1="162.33" y1="815.7" x2="163.13" y2="815.7" class="md"/>
<line x1="170" y1="788.1" x2="170" y2="805.4" class="w"/><line x1="170" y1="817.2" x2="170" y2="829.4" class="w"/><rect x="168.34" y="780.5" width="3.31" height="7.6" class="o"/><circle cx="170" cy="780.5" r="1.95" class="o"/><circle cx="170" cy="783.03" r="1.95" class="o"/><circle cx="170" cy="785.57" r="1.95" class="o"/><circle cx="170" cy="788.1" r="1.95" class="o"/><path d="M166.7,805.4H173.3V809.53L170.4,810.3L173.3,811.07V817.2H166.7V811.07L169.6,810.3L166.7,809.53Z" fill="#00C19F" class="bx"/><line x1="169.6" y1="810.3" x2="170.4" y2="810.3" class="md"/>
<line x1="177.27" y1="768.2" x2="177.27" y2="790.9" class="w"/><line x1="177.27" y1="812.3" x2="177.27" y2="838.6" class="w"/><path d="M173.97,790.9H180.57V801.71L177.67,803.1L180.57,804.49V812.3H173.97V804.49L176.87,803.1L173.97,801.71Z" fill="#00B9E3" class="bx"/><line x1="176.87" y1="803.1" x2="177.67" y2="803.1" class="md"/>
<line x1="184.54" y1="738.4" x2="184.54" y2="766.7" class="w"/><line x1="184.54" y1="808" x2="184.54" y2="843.5" class="w"/><path d="M181.24,766.7H187.84V784.22L184.94,786.9L187.84,789.58V808H181.24V789.58L184.14,786.9L181.24,784.22Z" fill="#619CFF" class="bx"/><line x1="184.14" y1="786.9" x2="184.94" y2="786.9" class="md"/>
<line x1="191.81" y1="694.1" x2="191.81" y2="746.5" class="w"/><line x1="191.81" y1="803.1" x2="191.81" y2="846.6" class="w"/><path d="M188.51,746.5H195.11V774.92L192.21,778.6L195.11,782.28V803.1H188.51V782.28L191.41,778.6L188.51,774.92Z" fill="#DB72FB" class="bx"/><line x1="191.41" y1="778.6" x2="192.21" y2="778.6" class="md"/>
<line x1="199.08" y1="735.3" x2="199.08" y2="782" class="w"/><line x1="199.08" y1="824.1" x2="199.08" y2="874.6" class="w"/><path d="M195.78,782H202.38V800.36L199.48,803.1L202.38,805.84V824.1H195.78V805.84L198.68,803.1L195.78,800.36Z" fill="#FF61C3" class="bx"/><line x1="198.68" y1="803.1" x2="199.48" y2="803.1" class="md"/>
<line x1="227.92" y1="816" x2="227.92" y2="818.8" class="w"/><line x1="227.92" y1="820.2" x2="227.92" y2="823" class="w"/><rect x="226.26" y="810" width="3.31" height="6" class="o"/><circle cx="227.92" cy="810" r="1.95" class="o"/><circle cx="227.92" cy="813" r="1.95" class="o"/><circle cx="227.92" cy="816" r="1.95" class="o"/><rect x="226.26" y="823.1" width="3.31" height="7.1" class="o"/><circle cx="227.92" cy="823.1" r="1.95" class="o"/><circle cx="227.92" cy="825.47" r="1.95" class="o"/><circle cx="227.92" cy="827.83" r="1.95" class="o"/><circle cx="227.92" cy="830.2" r="1.95" class="o"/><path d="M224.62,818.8H231.22V819.41L228.32,819.5L231.22,819.59V820.2H224.62V819.59L227.52,819.5L224.62,819.41Z" fill="#F8766D" class="bx"/><line x1="227.52" y1="819.5" x2="228.32" y2="819.5" class="md"/>
<line x1="235.19" y1="811.7" x2="235.19" y2="816.6" class="w"/><line x1="235.19" y1="819.8" x2="235.19" y2="826.4" class="w"/><rect x="233.53" y="804" width="3.31" height="7.7" class="o"/><circle cx="235.19" cy="804" r="1.95" class="o"/><circle cx="235.19" cy="806.57" r="1.95" class="o"/><circle cx="235.19" cy="809.13" r="1.95" class="o"/><circle cx="235.19" cy="811.7" r="1.95" class="o"/><rect x="233.53" y="826.4" width="3.31" height="4.9" class="o"/><circle cx="235.19" cy="826.4" r="1.95" class="o"/><circle cx="235.19" cy="828.85" r="1.95" class="o"/><circle cx="235.19" cy="831.3" r="1.95" class="o"/><path d="M231.89,816.6H238.49V817.79L235.59,818L238.49,818.21V819.8H231.89V818.21L234.79,818L231.89,817.79Z" fill="#D39200" class="bx"/><line x1="234.79" y1="818" x2="235.59" y2="818" class="md"/>
<line x1="242.46" y1="807.8" x2="242.46" y2="815.5" class="w"/><line x1="242.46" y1="820.4" x2="242.46" y2="828" class="w"/><rect x="240.8" y="800.7" width="3.31" height="6.6" class="o"/><circle cx="242.46" cy="800.7" r="1.95" class="o"/><circle cx="242.46" cy="802.9" r="1.95" class="o"/><circle cx="242.46" cy="805.1" r="1.95" class="o"/><circle cx="242.46" cy="807.3" r="1.95" class="o"/><circle cx="242.46" cy="794.7" r="1.95" class="o"/><circle cx="242.46" cy="830.8" r="1.95" class="o"/><circle cx="242.46" cy="837.3" r="1.95" class="o"/><path d="M239.16,815.5H245.76V816.78L242.86,817.1L245.76,817.42V820.4H239.16V817.42L242.06,817.1L239.16,816.78Z" fill="#93AA00" class="bx"/><line x1="242.06" y1="817.1" x2="242.86" y2="817.1" class="md"/>
<line x1="249.73" y1="801.8" x2="249.73" y2="811.9" class="w"/><line x1="249.73" y1="819.1" x2="249.73" y2="829.7" class="w"/><rect x="248.07" y="787.6" width="3.31" height="13.1" class="o"/><circle cx="249.73" cy="787.6" r="1.95" class="o"/><circle cx="249.73" cy="790.22" r="1.95" class="o"/><circle cx="249.73" cy="792.84" r="1.95" class="o"/><circle cx="249.73" cy="795.46" r="1.95" class="o"/><circle cx="249.73" cy="798.08" r="1.95" class="o"/><circle cx="249.73" cy="800.7" r="1.95" class="o"/><rect x="248.07" y="830.8" width="3.31" height="10.3" class="o"/><circle cx="249.73" cy="830.8" r="1.95" class="o"/><circle cx="249.73" cy="833.38" r="1.95" class="o"/><circle cx="249.73" cy="835.95" r="1.95" class="o"/><circle cx="249.73" cy="838.52" r="1.95" class="o"/><circle cx="249.73" cy="841.1" r="1.95" class="o"/><path d="M246.43,811.9H253.03V814.73L250.13,815.2L253.03,815.67V819.1H246.43V815.67L249.33,815.2L246.43,814.73Z" fill="#00BA38" class="bx"/><line x1="249.33" y1="815.2" x2="250.13" y2="815.2" class="md"/>
<line x1="257" y1="783.3" x2="257" y2="803.5" class="w"/><line x1="257" y1="817.7" x2="257" y2="834.6" class="w"/><rect x="255.34" y="767.8" width="3.31" height="13.8" class="o"/><circle cx="257" cy="767.8" r="1.95" class="o"/><circle cx="257" cy="770.1" r="1.95" class="o"/><circle cx="257" cy="772.4" r="1.95" class="o"/><circle cx="257" cy="774.7" r="1.95" class="o"/><circle cx="257" cy="777" r="1.95" class="o"/><circle cx="257" cy="779.3" r="1.95" class="o"/><circle cx="257" cy="781.6" r="1.95" class="o"/><circle cx="257" cy="764.4" r="1.95" class="o"/><circle cx="257" cy="839.8" r="1.95" class="o"/><circle cx="257" cy="869" r="1.95" class="o"/><path d="M253.7,803.5H260.3V809.88L257.4,810.8L260.3,811.72V817.7H253.7V811.72L256.6,810.8L253.7,809.88Z" fill="#00C19F" class="bx"/><line x1="256.6" y1="810.8" x2="257.4" y2="810.8" class="md"/>
<line x1="264.27" y1="738.7" x2="264.27" y2="782.3" class="w"/><line x1="264.27" y1="810.9" x2="264.27" y2="852.4" class="w"/><rect x="262.61" y="717.3" width="3.31" height="21.4" class="o"/><circle cx="264.27" cy="717.3" r="1.95" class="o"/><circle cx="264.27" cy="719.68" r="1.95" class="o"/><circle cx="264.27" cy="722.06" r="1.95" class="o"/><circle cx="264.27" cy="724.43" r="1.95" class="o"/><circle cx="264.27" cy="726.81" r="1.95" class="o"/><circle cx="264.27" cy="729.19" r="1.95" class="o"/><circle cx="264.27" cy="731.57" r="1.95" class="o"/><circle cx="264.27" cy="733.94" r="1.95" class="o"/><circle cx="264.27" cy="736.32" r="1.95" class="o"/><circle cx="264.27" cy="738.7" r="1.95" class="o"/><circle cx="264.27" cy="709.7" r="1.95" class="o"/><path d="M260.97,782.3H267.57V799.84L264.67,801.7L267.57,803.56V810.9H260.97V803.56L263.87,801.7L260.97,799.84Z" fill="#00B9E3" class="bx"/><line x1="263.87" y1="801.7" x2="264.67" y2="801.7" class="md"/>
<line x1="271.54" y1="683" x2="271.54" y2="753.5" class="w"/><line x1="271.54" y1="799.3" x2="271.54" y2="834.2" class="w"/><rect x="269.88" y="676" width="3.31" height="7" class="o"/><circle cx="271.54" cy="676" r="1.95" class="o"/><circle cx="271.54" cy="678.33" r="1.95" class="o"/><circle cx="271.54" cy="680.67" r="1.95" class="o"/><circle cx="271.54" cy="683" r="1.95" class="o"/><path d="M268.24,753.5H274.84V776.52L271.94,779.5L274.84,782.48V799.3H268.24V782.48L271.14,779.5L268.24,776.52Z" fill="#619CFF" class="bx"/><line x1="271.14" y1="779.5" x2="271.94" y2="779.5" class="md"/>
<line x1="278.81" y1="679" x2="278.81" y2="741" class="w"/><line x1="278.81" y1="790.1" x2="278.81" y2="843.8" class="w"/><path d="M275.51,741H282.11V764.81L279.21,768L282.11,771.19V790.1H275.51V771.19L278.41,768L275.51,764.81Z" fill="#DB72FB" class="bx"/><line x1="278.41" y1="768" x2="279.21" y2="768" class="md"/>
<line x1="286.08" y1="699.7" x2="286.08" y2="744.6" class="w"/><line x1="286.08" y1="784.1" x2="286.08" y2="843.8" class="w"/><rect x="284.42" y="843.8" width="3.31" height="12" class="o"/><circle cx="286.08" cy="843.8" r="1.95" class="o"/><circle cx="286.08" cy="846.2" r="1.95" class="o"/><circle cx="286.08" cy="848.6" r="1.95" class="o"/><circle cx="286.08" cy="851" r="1.95" class="o"/><circle cx="286.08" cy="853.4" r="1.95" class="o"/><circle cx="286.08" cy="855.8" r="1.95" class="o"/><circle cx="286.08" cy="863" r="1.95" class="o"/><circle cx="286.08" cy="867.1" r="1.95" class="o"/><path d="M282.78,744.6H289.38V761.63L286.48,764.2L289.38,766.77V784.1H282.78V766.77L285.68,764.2L282.78,761.63Z" fill="#FF61C3" class="bx"/><line x1="285.68" y1="764.2" x2="286.48" y2="764.2" class="md"/>
<rect x="31" y="653" width="278" height="232.39999999999998" class="fr"/>
<line x1="27" y1="873.5" x2="31" y2="873.5" class="tk"/>
<text class="tl" transform="translate(23,873.5) rotate(-90)" text-anchor="middle">-0.3</text>
<line x1="27" y1="819.8" x2="31" y2="819.8" class="tk"/>
<text class="tl" transform="translate(23,819.8) rotate(-90)" text-anchor="middle">0.0</text>
<line x1="27" y1="766" x2="31" y2="766" class="tk"/>
<text class="tl" transform="translate(23,766) rotate(-90)" text-anchor="middle">0.3</text>
<line x1="27" y1="712.4" x2="31" y2="712.4" class="tk"/>
<text class="tl" transform="translate(23,712.4) rotate(-90)" text-anchor="middle">0.6</text>
<line x1="27" y1="658.6" x2="31" y2="658.6" class="tk"/>
<text class="tl" transform="translate(23,658.6) rotate(-90)" text-anchor="middle">0.9</text>
<line x1="83" y1="885.4" x2="83" y2="889.4" class="tk"/>
<text class="tl" x="83" y="899.8" text-anchor="middle">Temperature</text>
<line x1="170" y1="885.4" x2="170" y2="889.4" class="tk"/>
<text class="tl" x="170" y="899.8" text-anchor="middle">Precipitation</text>
<line x1="257" y1="885.4" x2="257" y2="889.4" class="tk"/>
<text class="tl" x="257" y="899.8" text-anchor="middle">Streamflow</text>
<text class="ti" x="170" y="914.4" text-anchor="middle">Time series type</text>
<text class="ti" transform="translate(9,769.2) rotate(-90)" text-anchor="middle">seas_pacf</text>
<text class="pl" x="31" y="641.7">(e)</text>
<line x1="361" y1="882.6" x2="639" y2="882.6" class="g"/><line x1="361" y1="827.4" x2="639" y2="827.4" class="g"/><line x1="361" y1="771" x2="639" y2="771" class="g"/><line x1="361" y1="715" x2="639" y2="715" class="g"/><line x1="361" y1="659.2" x2="639" y2="659.2" class="g"/><line x1="413" y1="653" x2="413" y2="885.4" class="g"/><line x1="500" y1="653" x2="500" y2="885.4" class="g"/><line x1="587" y1="653" x2="587" y2="885.4" class="g"/>
<line x1="383.92" y1="839" x2="383.92" y2="845.5" class="w"/><line x1="383.92" y1="850.1" x2="383.92" y2="855.6" class="w"/><rect x="382.26" y="821" width="3.31" height="18" class="o"/><circle cx="383.92" cy="821" r="1.95" class="o"/><circle cx="383.92" cy="823.25" r="1.95" class="o"/><circle cx="383.92" cy="825.5" r="1.95" class="o"/><circle cx="383.92" cy="827.75" r="1.95" class="o"/><circle cx="383.92" cy="830" r="1.95" class="o"/><circle cx="383.92" cy="832.25" r="1.95" class="o"/><circle cx="383.92" cy="834.5" r="1.95" class="o"/><circle cx="383.92" cy="836.75" r="1.95" class="o"/><circle cx="383.92" cy="839" r="1.95" class="o"/><rect x="382.26" y="856.4" width="3.31" height="4.8" class="o"/><circle cx="383.92" cy="856.4" r="1.95" class="o"/><circle cx="383.92" cy="858.8" r="1.95" class="o"/><circle cx="383.92" cy="861.2" r="1.95" class="o"/><path d="M380.62,845.5H387.22V847.2L384.32,847.5L387.22,847.8V850.1H380.62V847.8L383.52,847.5L380.62,847.2Z" fill="#F8766D" class="bx"/><line x1="383.52" y1="847.5" x2="384.32" y2="847.5" class="md"/>
<line x1="391.19" y1="824.1" x2="391.19" y2="833.7" class="w"/><line x1="391.19" y1="839.8" x2="391.19" y2="849.4" class="w"/><rect x="389.53" y="817.8" width="3.31" height="6.3" class="o"/><circle cx="391.19" cy="817.8" r="1.95" class="o"/><circle cx="391.19" cy="819.9" r="1.95" class="o"/><circle cx="391.19" cy="822" r="1.95" class="o"/><circle cx="391.19" cy="824.1" r="1.95" class="o"/><circle cx="391.19" cy="811.7" r="1.95" class="o"/><circle cx="391.19" cy="849.9" r="1.95" class="o"/><path d="M387.89,833.7H394.49V836.4L391.59,836.8L394.49,837.2V839.8H387.89V837.2L390.79,836.8L387.89,836.4Z" fill="#D39200" class="bx"/><line x1="390.79" y1="836.8" x2="391.59" y2="836.8" class="md"/>
<line x1="398.46" y1="821.9" x2="398.46" y2="830.6" class="w"/><line x1="398.46" y1="836.8" x2="398.46" y2="845.1" class="w"/><rect x="396.8" y="813.6" width="3.31" height="5.2" class="o"/><circle cx="398.46" cy="813.6" r="1.95" class="o"/><circle cx="398.46" cy="816.2" r="1.95" class="o"/><circle cx="398.46" cy="818.8" r="1.95" class="o"/><circle cx="398.46" cy="806" r="1.95" class="o"/><path d="M395.16,830.6H401.76V833.7L398.86,834.1L401.76,834.5V836.8H395.16V834.5L398.06,834.1L395.16,833.7Z" fill="#93AA00" class="bx"/><line x1="398.06" y1="834.1" x2="398.86" y2="834.1" class="md"/>
<line x1="405.73" y1="823.2" x2="405.73" y2="831.8" class="w"/><line x1="405.73" y1="837.4" x2="405.73" y2="843.8" class="w"/><rect x="404.07" y="811.9" width="3.31" height="11.3" class="o"/><circle cx="405.73" cy="811.9" r="1.95" class="o"/><circle cx="405.73" cy="814.16" r="1.95" class="o"/><circle cx="405.73" cy="816.42" r="1.95" class="o"/><circle cx="405.73" cy="818.68" r="1.95" class="o"/><circle cx="405.73" cy="820.94" r="1.95" class="o"/><circle cx="405.73" cy="823.2" r="1.95" class="o"/><circle cx="405.73" cy="804.9" r="1.95" class="o"/><path d="M402.43,831.8H409.03V834.24L406.13,834.6L409.03,834.96V837.4H402.43V834.96L405.33,834.6L402.43,834.24Z" fill="#00BA38" class="bx"/><line x1="405.33" y1="834.6" x2="406.13" y2="834.6" class="md"/>
<line x1="413" y1="825" x2="413" y2="831.5" class="w"/><line x1="413" y1="835.9" x2="413" y2="841.1" class="w"/><rect x="411.34" y="812.6" width="3.31" height="12.4" class="o"/><circle cx="413" cy="812.6" r="1.95" class="o"/><circle cx="413" cy="815.08" r="1.95" class="o"/><circle cx="413" cy="817.56" r="1.95" class="o"/><circle cx="413" cy="820.04" r="1.95" class="o"/><circle cx="413" cy="822.52" r="1.95" class="o"/><circle cx="413" cy="825" r="1.95" class="o"/><circle cx="413" cy="806" r="1.95" class="o"/><path d="M409.7,831.5H416.3V833.41L413.4,833.7L416.3,833.99V835.9H409.7V833.99L412.6,833.7L409.7,833.41Z" fill="#00C19F" class="bx"/><line x1="412.6" y1="833.7" x2="413.4" y2="833.7" class="md"/>
<line x1="420.27" y1="815.8" x2="420.27" y2="816.2" class="w"/><line x1="420.27" y1="819.3" x2="420.27" y2="820.2" class="w"/><rect x="418.61" y="803.1" width="3.31" height="10.5" class="o"/><circle cx="420.27" cy="803.1" r="1.95" class="o"/><circle cx="420.27" cy="805.73" r="1.95" class="o"/><circle cx="420.27" cy="808.35" r="1.95" class="o"/><circle cx="420.27" cy="810.98" r="1.95" class="o"/><circle cx="420.27" cy="813.6" r="1.95" class="o"/><path d="M416.97,816.2H423.57V817.5L420.67,817.7L423.57,817.9V819.3H416.97V817.9L419.87,817.7L416.97,817.5Z" fill="#00B9E3" class="bx"/><line x1="419.87" y1="817.7" x2="420.67" y2="817.7" class="md"/>
<line x1="427.54" y1="766" x2="427.54" y2="768" class="w"/><line x1="427.54" y1="770" x2="427.54" y2="772" class="w"/><rect x="425.88" y="763.5" width="3.31" height="9.6" class="o"/><circle cx="427.54" cy="763.5" r="1.95" class="o"/><circle cx="427.54" cy="765.9" r="1.95" class="o"/><circle cx="427.54" cy="768.3" r="1.95" class="o"/><circle cx="427.54" cy="770.7" r="1.95" class="o"/><circle cx="427.54" cy="773.1" r="1.95" class="o"/><path d="M424.24,768H430.84V768.87L427.94,769L430.84,769.13V770H424.24V769.13L427.14,769L424.24,768.87Z" fill="#619CFF" class="bx"/><line x1="427.14" y1="769" x2="427.94" y2="769" class="md"/>
<line x1="434.81" y1="721" x2="434.81" y2="723.5" class="w"/><line x1="434.81" y1="725.5" x2="434.81" y2="728" class="w"/><rect x="433.15" y="720" width="3.31" height="10.8" class="o"/><circle cx="434.81" cy="720" r="1.95" class="o"/><circle cx="434.81" cy="722.7" r="1.95" class="o"/><circle cx="434.81" cy="725.4" r="1.95" class="o"/><circle cx="434.81" cy="728.1" r="1.95" class="o"/><circle cx="434.81" cy="730.8" r="1.95" class="o"/><path d="M431.51,723.5H438.11V724.37L435.21,724.5L438.11,724.63V725.5H431.51V724.63L434.41,724.5L431.51,724.37Z" fill="#DB72FB" class="bx"/><line x1="434.41" y1="724.5" x2="435.21" y2="724.5" class="md"/>
<line x1="442.08" y1="664.1" x2="442.08" y2="666.1" class="w"/><line x1="442.08" y1="671.4" x2="442.08" y2="677.5" class="w"/><rect x="440.42" y="677.5" width="3.31" height="19.9" class="o"/><circle cx="442.08" cy="677.5" r="1.95" class="o"/><circle cx="442.08" cy="679.99" r="1.95" class="o"/><circle cx="442.08" cy="682.48" r="1.95" class="o"/><circle cx="442.08" cy="684.96" r="1.95" class="o"/><circle cx="442.08" cy="687.45" r="1.95" class="o"/><circle cx="442.08" cy="689.94" r="1.95" class="o"/><circle cx="442.08" cy="692.42" r="1.95" class="o"/><circle cx="442.08" cy="694.91" r="1.95" class="o"/><circle cx="442.08" cy="697.4" r="1.95" class="o"/><path d="M438.78,666.1H445.38V668.76L442.48,669.1L445.38,669.44V671.4H438.78V669.44L441.68,669.1L438.78,668.76Z" fill="#FF61C3" class="bx"/><line x1="441.68" y1="669.1" x2="442.48" y2="669.1" class="md"/>
<line x1="470.92" y1="738.6" x2="470.92" y2="744.8" class="w"/><line x1="470.92" y1="765" x2="470.92" y2="796.3" class="w"/><circle cx="470.92" cy="796.8" r="1.95" class="o"/><path d="M467.62,744.8H474.22V746.49L471.32,747.8L474.22,749.11V765H467.62V749.11L470.52,747.8L467.62,746.49Z" fill="#F8766D" class="bx"/><line x1="470.52" y1="747.8" x2="471.32" y2="747.8" class="md"/>
<line x1="478.19" y1="728.2" x2="478.19" y2="733.6" class="w"/><line x1="478.19" y1="751.2" x2="478.19" y2="778" class="w"/><path d="M474.89,733.6H481.49V734.76L478.59,735.9L481.49,737.04V751.2H474.89V737.04L477.79,735.9L474.89,734.76Z" fill="#D39200" class="bx"/><line x1="477.79" y1="735.9" x2="478.59" y2="735.9" class="md"/>
<line x1="485.46" y1="726" x2="485.46" y2="730.5" class="w"/><line x1="485.46" y1="747.4" x2="485.46" y2="773.4" class="w"/><circle cx="485.46" cy="773.4" r="1.95" class="o"/><path d="M482.16,730.5H488.76V733.3L485.86,734.4L488.76,735.5V747.4H482.16V735.5L485.06,734.4L482.16,733.3Z" fill="#93AA00" class="bx"/><line x1="485.06" y1="734.4" x2="485.86" y2="734.4" class="md"/>
<line x1="492.73" y1="724.9" x2="492.73" y2="730.5" class="w"/><line x1="492.73" y1="743.8" x2="492.73" y2="765.7" class="w"/><circle cx="492.73" cy="766" r="1.95" class="o"/><path d="M489.43,730.5H496.03V734.74L493.13,735.6L496.03,736.46V743.8H489.43V736.46L492.33,735.6L489.43,734.74Z" fill="#00BA38" class="bx"/><line x1="492.33" y1="735.6" x2="493.13" y2="735.6" class="md"/>
<line x1="500" y1="722.9" x2="500" y2="731.3" class="w"/><line x1="500" y1="751.2" x2="500" y2="769.5" class="w"/><path d="M496.7,731.3H503.3V736.11L500.4,737.4L503.3,738.69V751.2H496.7V738.69L499.6,737.4L496.7,736.11Z" fill="#00C19F" class="bx"/><line x1="499.6" y1="737.4" x2="500.4" y2="737.4" class="md"/>
<line x1="507.27" y1="722.9" x2="507.27" y2="733.6" class="w"/><line x1="507.27" y1="755.5" x2="507.27" y2="778" class="w"/><path d="M503.97,733.6H510.57V737.58L507.67,739L510.57,740.42V755.5H503.97V740.42L506.87,739L503.97,737.58Z" fill="#00B9E3" class="bx"/><line x1="506.87" y1="739" x2="507.67" y2="739" class="md"/>
<line x1="514.54" y1="717.2" x2="514.54" y2="729.5" class="w"/><line x1="514.54" y1="746.3" x2="514.54" y2="761.1" class="w"/><path d="M511.24,729.5H517.84V736.31L514.94,737.4L517.84,738.49V746.3H511.24V738.49L514.14,737.4L511.24,736.31Z" fill="#619CFF" class="bx"/><line x1="514.14" y1="737.4" x2="514.94" y2="737.4" class="md"/>
<line x1="521.81" y1="706.8" x2="521.81" y2="720.6" class="w"/><line x1="521.81" y1="728.2" x2="521.81" y2="743.5" class="w"/><rect x="520.15" y="700.7" width="3.31" height="6.1" class="o"/><circle cx="521.81" cy="700.7" r="1.95" class="o"/><circle cx="521.81" cy="702.73" r="1.95" class="o"/><circle cx="521.81" cy="704.77" r="1.95" class="o"/><circle cx="521.81" cy="706.8" r="1.95" class="o"/><rect x="520.15" y="743.5" width="3.31" height="9.2" class="o"/><circle cx="521.81" cy="743.5" r="1.95" class="o"/><circle cx="521.81" cy="745.8" r="1.95" class="o"/><circle cx="521.81" cy="748.1" r="1.95" class="o"/><circle cx="521.81" cy="750.4" r="1.95" class="o"/><circle cx="521.81" cy="752.7" r="1.95" class="o"/><path d="M518.51,720.6H525.11V723.91L522.21,724.4L525.11,724.89V728.2H518.51V724.89L521.41,724.4L518.51,723.91Z" fill="#DB72FB" class="bx"/><line x1="521.41" y1="724.4" x2="522.21" y2="724.4" class="md"/>
<line x1="529.08" y1="693.7" x2="529.08" y2="714.5" class="w"/><line x1="529.08" y1="729" x2="529.08" y2="751.2" class="w"/><rect x="527.42" y="688.3" width="3.31" height="5.4" class="o"/><circle cx="529.08" cy="688.3" r="1.95" class="o"/><circle cx="529.08" cy="691" r="1.95" class="o"/><circle cx="529.08" cy="693.7" r="1.95" class="o"/><rect x="527.42" y="751.2" width="3.31" height="9.9" class="o"/><circle cx="529.08" cy="751.2" r="1.95" class="o"/><circle cx="529.08" cy="753.68" r="1.95" class="o"/><circle cx="529.08" cy="756.15" r="1.95" class="o"/><circle cx="529.08" cy="758.62" r="1.95" class="o"/><circle cx="529.08" cy="761.1" r="1.95" class="o"/><circle cx="529.08" cy="683.1" r="1.95" class="o"/><circle cx="529.08" cy="767.7" r="1.95" class="o"/><circle cx="529.08" cy="797.8" r="1.95" class="o"/><path d="M525.78,714.5H532.38V721.16L529.48,722.1L532.38,723.04V729H525.78V723.04L528.68,722.1L525.78,721.16Z" fill="#FF61C3" class="bx"/><line x1="528.68" y1="722.1" x2="529.48" y2="722.1" class="md"/>
<line x1="557.92" y1="730.3" x2="557.92" y2="781.6" class="w"/><line x1="557.92" y1="829.7" x2="557.92" y2="874.5" class="w"/><path d="M554.62,781.6H561.22V801.47L558.32,804.6L561.22,807.73V829.7H554.62V807.73L557.52,804.6L554.62,801.47Z" fill="#F8766D" class="bx"/><line x1="557.52" y1="804.6" x2="558.32" y2="804.6" class="md"/>
<line x1="565.19" y1="729.8" x2="565.19" y2="769.2" class="w"/><line x1="565.19" y1="812.9" x2="565.19" y2="870.6" class="w"/><path d="M561.89,769.2H568.49V784.26L565.59,787.1L568.49,789.94V812.9H561.89V789.94L564.79,787.1L561.89,784.26Z" fill="#D39200" class="bx"/><line x1="564.79" y1="787.1" x2="565.59" y2="787.1" class="md"/>
<line x1="572.46" y1="729.2" x2="572.46" y2="765.2" class="w"/><line x1="572.46" y1="803.1" x2="572.46" y2="858.1" class="w"/><circle cx="572.46" cy="861" r="1.95" class="o"/><circle cx="572.46" cy="867.3" r="1.95" class="o"/><path d="M569.16,765.2H575.76V778.54L572.86,781L575.76,783.46V803.1H569.16V783.46L572.06,781L569.16,778.54Z" fill="#93AA00" class="bx"/><line x1="572.06" y1="781" x2="572.86" y2="781" class="md"/>
<line x1="579.73" y1="732" x2="579.73" y2="763.1" class="w"/><line x1="579.73" y1="789.3" x2="579.73" y2="829.7" class="w"/><rect x="578.07" y="829.7" width="3.31" height="13.1" class="o"/><circle cx="579.73" cy="829.7" r="1.95" class="o"/><circle cx="579.73" cy="832.32" r="1.95" class="o"/><circle cx="579.73" cy="834.94" r="1.95" class="o"/><circle cx="579.73" cy="837.56" r="1.95" class="o"/><circle cx="579.73" cy="840.18" r="1.95" class="o"/><circle cx="579.73" cy="842.8" r="1.95" class="o"/><circle cx="579.73" cy="845" r="1.95" class="o"/><circle cx="579.73" cy="855.3" r="1.95" class="o"/><path d="M576.43,763.1H583.03V771.9L580.13,773.6L583.03,775.3V789.3H576.43V775.3L579.33,773.6L576.43,771.9Z" fill="#00BA38" class="bx"/><line x1="579.33" y1="773.6" x2="580.13" y2="773.6" class="md"/>
<line x1="587" y1="729.2" x2="587" y2="762" class="w"/><line x1="587" y1="784.9" x2="587" y2="818.8" class="w"/><rect x="585.34" y="818.8" width="3.31" height="8.7" class="o"/><circle cx="587" cy="818.8" r="1.95" class="o"/><circle cx="587" cy="820.97" r="1.95" class="o"/><circle cx="587" cy="823.15" r="1.95" class="o"/><circle cx="587" cy="825.33" r="1.95" class="o"/><circle cx="587" cy="827.5" r="1.95" class="o"/><circle cx="587" cy="837.8" r="1.95" class="o"/><path d="M583.7,762H590.3V767.01L587.4,768.5L590.3,769.99V784.9H583.7V769.99L586.6,768.5L583.7,767.01Z" fill="#00C19F" class="bx"/><line x1="586.6" y1="768.5" x2="587.4" y2="768.5" class="md"/>
<line x1="594.27" y1="730.3" x2="594.27" y2="756.5" class="w"/><line x1="594.27" y1="777.9" x2="594.27" y2="811.1" class="w"/><circle cx="594.27" cy="811.8" r="1.95" class="o"/><circle cx="594.27" cy="823.2" r="1.95" class="o"/><path d="M590.97,756.5H597.57V764.91L594.67,766.3L597.57,767.69V777.9H590.97V767.69L593.87,766.3L590.97,764.91Z" fill="#00B9E3" class="bx"/><line x1="593.87" y1="766.3" x2="594.67" y2="766.3" class="md"/>
<line x1="601.54" y1="719.8" x2="601.54" y2="740.1" class="w"/><line x1="601.54" y1="756.5" x2="601.54" y2="779.5" class="w"/><circle cx="601.54" cy="784.9" r="1.95" class="o"/><circle cx="601.54" cy="787.5" r="1.95" class="o"/><circle cx="601.54" cy="795.4" r="1.95" class="o"/><circle cx="601.54" cy="803.1" r="1.95" class="o"/><path d="M598.24,740.1H604.84V748.43L601.94,749.5L604.84,750.57V756.5H598.24V750.57L601.14,749.5L598.24,748.43Z" fill="#619CFF" class="bx"/><line x1="601.14" y1="749.5" x2="601.94" y2="749.5" class="md"/>
<line x1="608.81" y1="701.9" x2="608.81" y2="725.9" class="w"/><line x1="608.81" y1="742.3" x2="608.81" y2="766.3" class="w"/><rect x="607.15" y="693.1" width="3.31" height="8.8" class="o"/><circle cx="608.81" cy="693.1" r="1.95" class="o"/><circle cx="608.81" cy="695.3" r="1.95" class="o"/><circle cx="608.81" cy="697.5" r="1.95" class="o"/><circle cx="608.81" cy="699.7" r="1.95" class="o"/><circle cx="608.81" cy="701.9" r="1.95" class="o"/><rect x="607.15" y="766.3" width="3.31" height="5.5" class="o"/><circle cx="608.81" cy="766.3" r="1.95" class="o"/><circle cx="608.81" cy="769.05" r="1.95" class="o"/><circle cx="608.81" cy="771.8" r="1.95" class="o"/><circle cx="608.81" cy="775.1" r="1.95" class="o"/><circle cx="608.81" cy="788.6" r="1.95" class="o"/><path d="M605.51,725.9H612.11V732.53L609.21,733.6L612.11,734.67V742.3H605.51V734.67L608.41,733.6L605.51,732.53Z" fill="#DB72FB" class="bx"/><line x1="608.41" y1="733.6" x2="609.21" y2="733.6" class="md"/>
<line x1="616.08" y1="671.6" x2="616.08" y2="699.5" class="w"/><line x1="616.08" y1="724.8" x2="616.08" y2="758.3" class="w"/><rect x="614.42" y="768.5" width="3.31" height="4.4" class="o"/><circle cx="616.08" cy="768.5" r="1.95" class="o"/><circle cx="616.08" cy="770.7" r="1.95" class="o"/><circle cx="616.08" cy="772.9" r="1.95" class="o"/><circle cx="616.08" cy="781.6" r="1.95" class="o"/><circle cx="616.08" cy="784.9" r="1.95" class="o"/><circle cx="616.08" cy="812.2" r="1.95" class="o"/><path d="M612.78,699.5H619.38V710.66L616.48,712.3L619.38,713.94V724.8H612.78V713.94L615.68,712.3L612.78,710.66Z" fill="#FF61C3" class="bx"/><line x1="615.68" y1="712.3" x2="616.48" y2="712.3" class="md"/>
<rect x="361" y="653" width="278" height="232.39999999999998" class="fr"/>
<line x1="357" y1="882.6" x2="361" y2="882.6" class="tk"/>
<text class="tl" transform="translate(353,882.6) rotate(-90)" text-anchor="middle">0.0</text>
<line x1="357" y1="827.4" x2="361" y2="827.4" class="tk"/>
<text class="tl" transform="translate(353,827.4) rotate(-90)" text-anchor="middle">0.5</text>
<line x1="357" y1="771" x2="361" y2="771" class="tk"/>
<text class="tl" transform="translate(353,771) rotate(-90)" text-anchor="middle">1.0</text>
<line x1="357" y1="715" x2="361" y2="715" class="tk"/>
<text class="tl" transform="translate(353,715) rotate(-90)" text-anchor="middle">1.5</text>
<line x1="357" y1="659.2" x2="361" y2="659.2" class="tk"/>
<text class="tl" transform="translate(353,659.2) rotate(-90)" text-anchor="middle">2.0</text>
<line x1="413" y1="885.4" x2="413" y2="889.4" class="tk"/>
<text class="tl" x="413" y="899.8" text-anchor="middle">Temperature</text>
<line x1="500" y1="885.4" x2="500" y2="889.4" class="tk"/>
<text class="tl" x="500" y="899.8" text-anchor="middle">Precipitation</text>
<line x1="587" y1="885.4" x2="587" y2="889.4" class="tk"/>
<text class="tl" x="587" y="899.8" text-anchor="middle">Streamflow</text>
<text class="ti" x="500" y="914.4" text-anchor="middle">Time series type</text>
<text class="ti" transform="translate(339,769.2) rotate(-90)" text-anchor="middle">std1st_der</text>
<text class="pl" x="361" y="641.7">(f)</text>
<text class="ti" x="125" y="13.75">Temporal</text><text class="ti" x="124.5" y="26.75">resolution</text>
<line x1="193" y1="-6.5" x2="193" y2="13.75" class="w"/>
<rect x="183.4" y="-2.75" width="19.2" height="12.5" fill="#F8766D" class="bx"/>
<line x1="183.4" y1="3.5" x2="202.6" y2="3.5" class="md"/>
<text class="tl" x="211" y="6.9" style="fill:#111">1-day</text>
<line x1="193" y1="18.5" x2="193" y2="38.75" class="w"/>
<rect x="183.4" y="22.25" width="19.2" height="12.5" fill="#D39200" class="bx"/>
<line x1="183.4" y1="28.5" x2="202.6" y2="28.5" class="md"/>
<text class="tl" x="211" y="31.9" style="fill:#111">2-day</text>
<line x1="253" y1="-6.5" x2="253" y2="13.75" class="w"/>
<rect x="243.4" y="-2.75" width="19.2" height="12.5" fill="#93AA00" class="bx"/>
<line x1="243.4" y1="3.5" x2="262.6" y2="3.5" class="md"/>
<text class="tl" x="271" y="6.9" style="fill:#111">3-day</text>
<line x1="253" y1="18.5" x2="253" y2="38.75" class="w"/>
<rect x="243.4" y="22.25" width="19.2" height="12.5" fill="#00BA38" class="bx"/>
<line x1="243.4" y1="28.5" x2="262.6" y2="28.5" class="md"/>
<text class="tl" x="271" y="31.9" style="fill:#111">7-day</text>
<line x1="313.6" y1="-6.5" x2="313.6" y2="13.75" class="w"/>
<rect x="304.0" y="-2.75" width="19.2" height="12.5" fill="#00C19F" class="bx"/>
<line x1="304.0" y1="3.5" x2="323.20000000000005" y2="3.5" class="md"/>
<text class="tl" x="331.6" y="6.9" style="fill:#111">0.5-month</text>
<line x1="313.6" y1="18.5" x2="313.6" y2="38.75" class="w"/>
<rect x="304.0" y="22.25" width="19.2" height="12.5" fill="#00B9E3" class="bx"/>
<line x1="304.0" y1="28.5" x2="323.20000000000005" y2="28.5" class="md"/>
<text class="tl" x="331.6" y="31.9" style="fill:#111">1-month</text>
<line x1="391.6" y1="-6.5" x2="391.6" y2="13.75" class="w"/>
<rect x="382.0" y="-2.75" width="19.2" height="12.5" fill="#619CFF" class="bx"/>
<line x1="382.0" y1="3.5" x2="401.20000000000005" y2="3.5" class="md"/>
<text class="tl" x="409.6" y="6.9" style="fill:#111">2-month</text>
<line x1="391.6" y1="18.5" x2="391.6" y2="38.75" class="w"/>
<rect x="382.0" y="22.25" width="19.2" height="12.5" fill="#DB72FB" class="bx"/>
<line x1="382.0" y1="28.5" x2="401.20000000000005" y2="28.5" class="md"/>
<text class="tl" x="409.6" y="31.9" style="fill:#111">3-month</text>
<line x1="462.75" y1="-6.5" x2="462.75" y2="13.75" class="w"/>
<rect x="453.15" y="-2.75" width="19.2" height="12.5" fill="#FF61C3" class="bx"/>
<line x1="453.15" y1="3.5" x2="472.35" y2="3.5" class="md"/>
<text class="tl" x="480.75" y="6.9" style="fill:#111">6-month</text>
</svg></body></html>
